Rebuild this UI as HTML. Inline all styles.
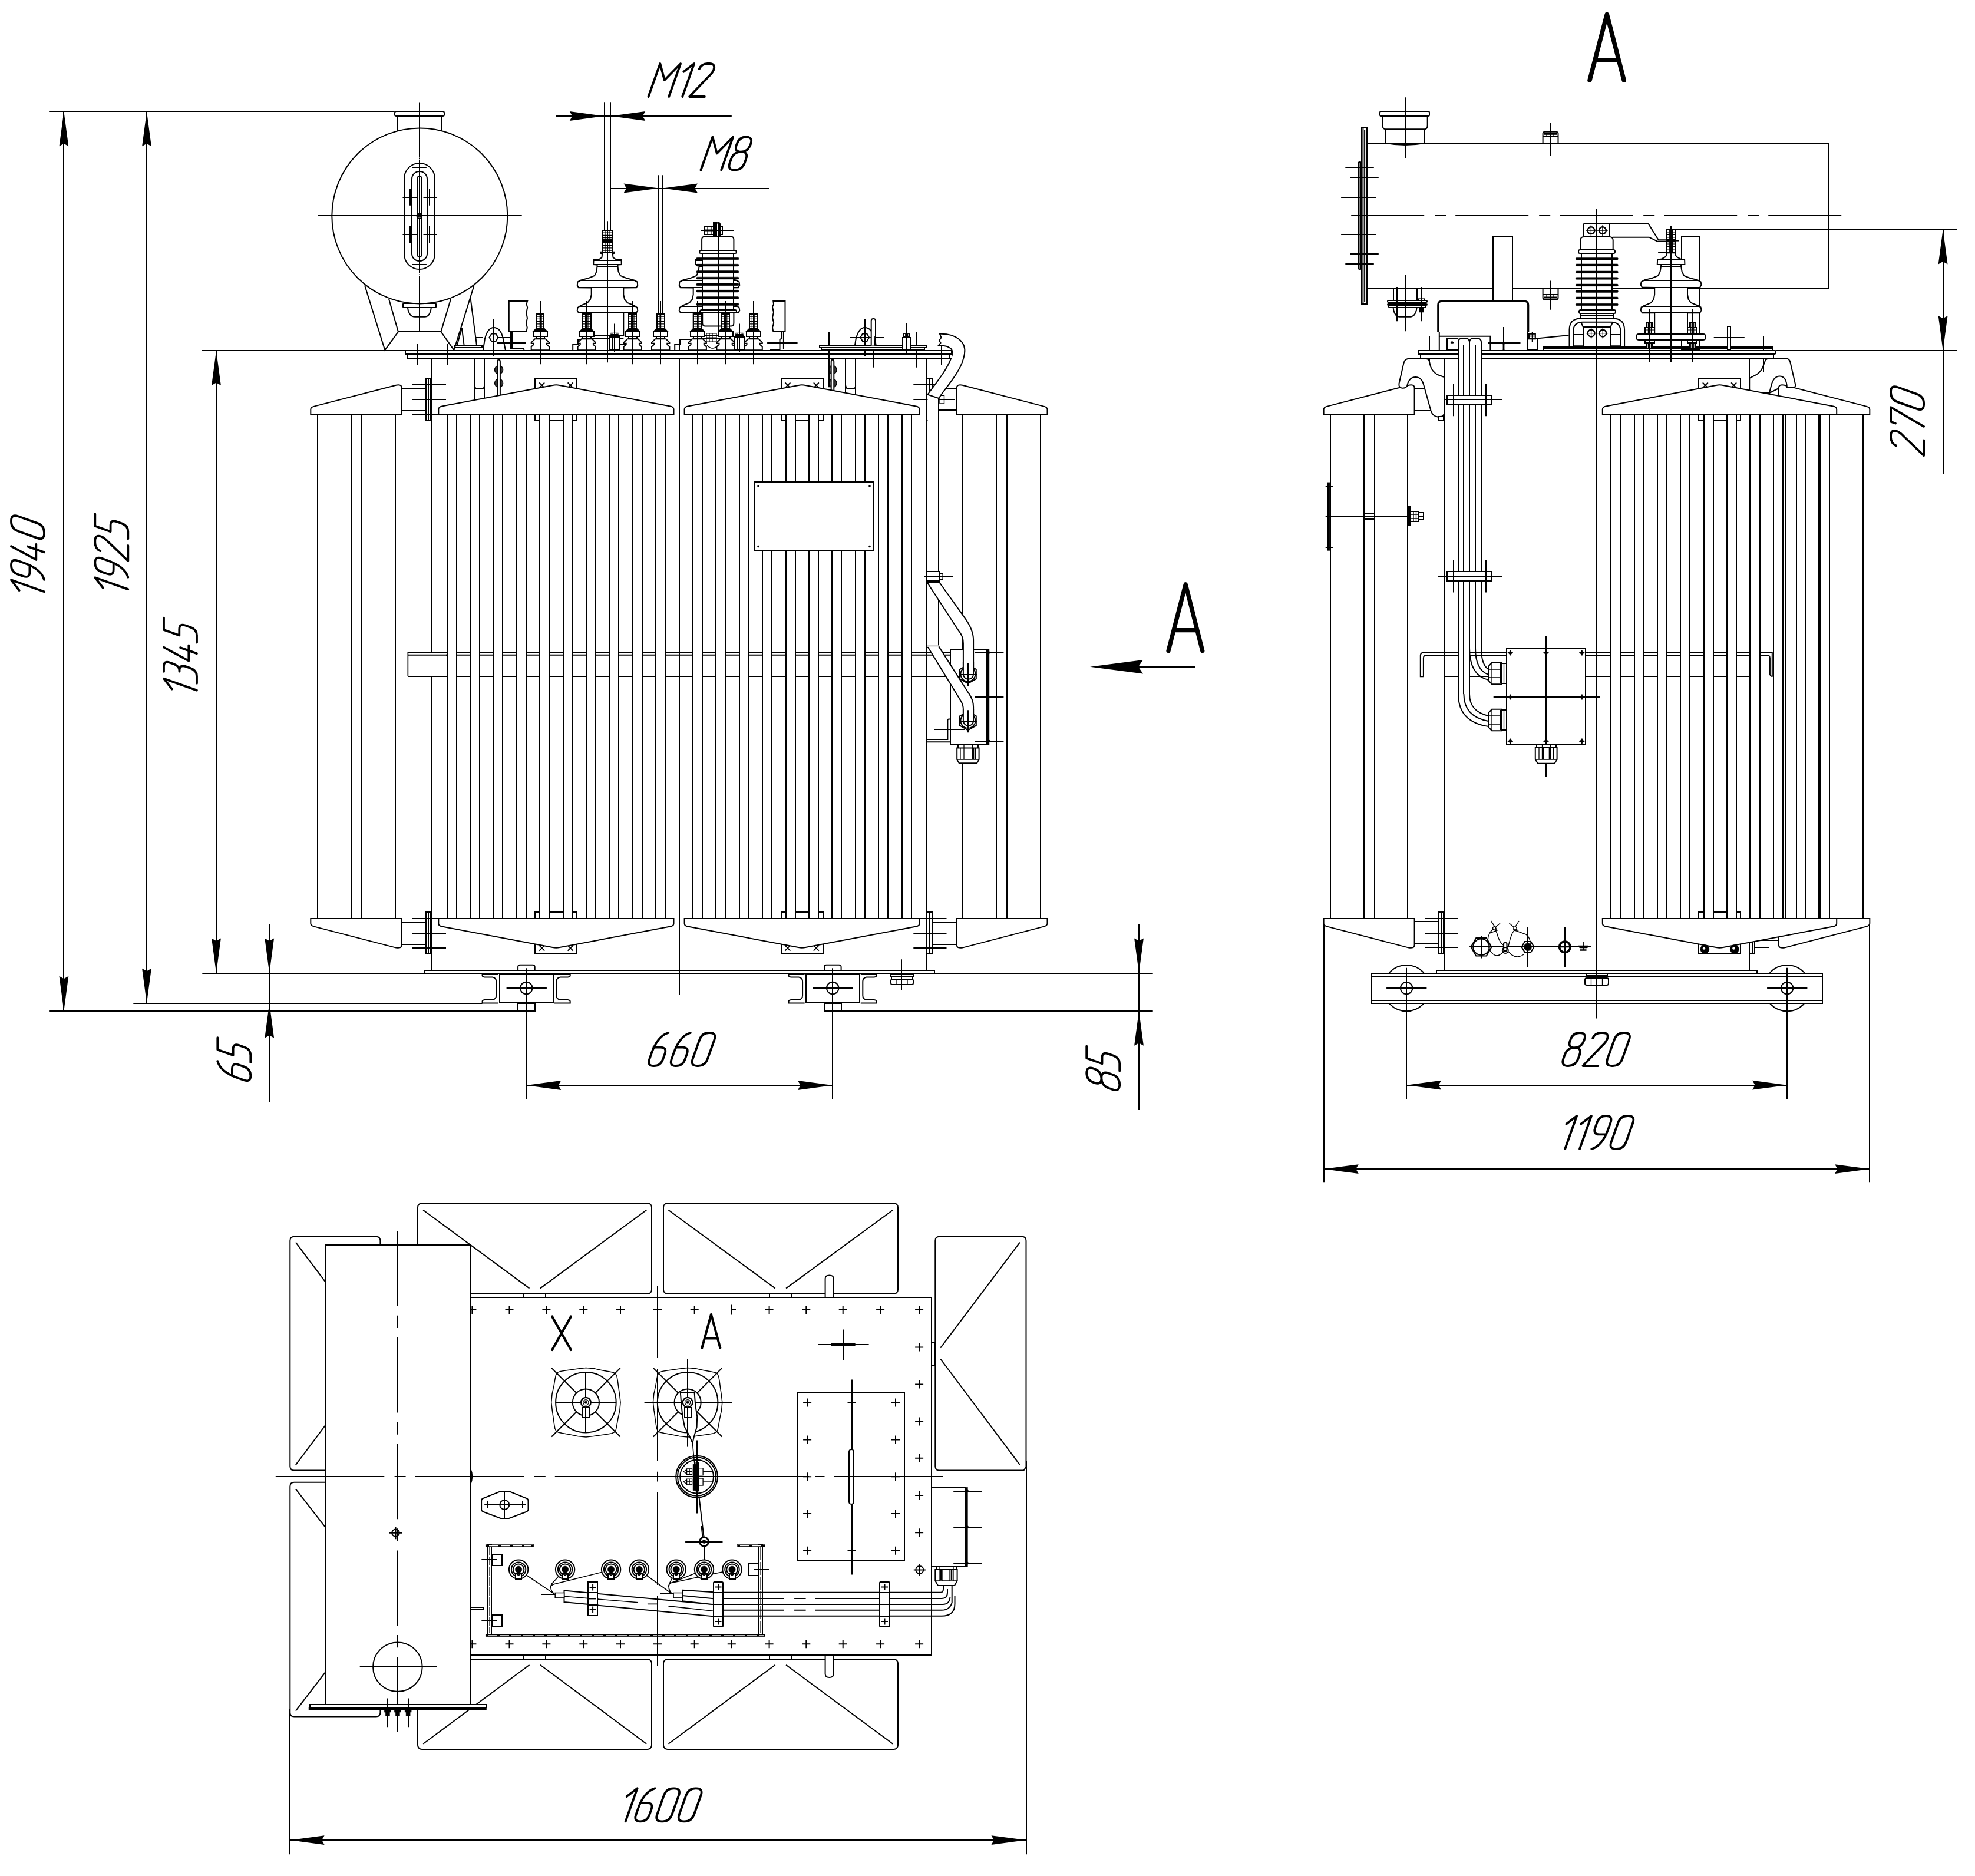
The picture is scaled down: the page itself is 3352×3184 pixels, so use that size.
<!DOCTYPE html>
<html><head><meta charset="utf-8"><title>Transformer drawing</title>
<style>html,body{margin:0;padding:0;background:#fff;font-family:"Liberation Sans",sans-serif}svg{display:block}</style></head><body>
<svg width="3352" height="3184" viewBox="0 0 3352 3184">
<rect width="3352" height="3184" fill="#fff"/>
<g fill="none" stroke="#000" stroke-width="2" stroke-linecap="butt" stroke-linejoin="miter">
<path d="M84.2 189L669.8 189"/>
<path d="M342.5 595L690 595"/>
<path d="M343.3 1652L1956.7 1652"/>
<path d="M226.3 1703L818.5 1703"/>
<path d="M84.2 1716L907.6 1716"/>
<path d="M1399.2 1716L1956.7 1716"/>
<path d="M108 189.2L108 1715.7"/>
<path d="M108.4 189.2L116.3 248.2L108.4 243.7L100.5 248.2Z" fill="#000" stroke="none"/>
<path d="M108.4 1715.7L100.5 1656.7L108.4 1661.2L116.3 1656.7Z" fill="#000" stroke="none"/>
<path d="M249 189.2L249 1702.8"/>
<path d="M249 189.2L256.9 248.2L249 243.7L241.1 248.2Z" fill="#000" stroke="none"/>
<path d="M249 1702.8L241.1 1643.8L249 1648.3L256.9 1643.8Z" fill="#000" stroke="none"/>
<path d="M367 595L367 1651.6"/>
<path d="M367 595L374.9 654L367 649.5L359.1 654Z" fill="#000" stroke="none"/>
<path d="M367 1651.6L359.1 1592.6L367 1597.1L374.9 1592.6Z" fill="#000" stroke="none"/>
<path d="M457 1569L457 1870.4"/>
<path d="M457.2 1651.6L449.3 1592.6L457.2 1597.1L465.1 1592.6Z" fill="#000" stroke="none"/>
<path d="M457.2 1702.8L465.1 1761.8L457.2 1757.3L449.3 1761.8Z" fill="#000" stroke="none"/>
<path d="M1933 1569L1933 1884"/>
<path d="M1933 1651.6L1925.1 1592.6L1933 1597.1L1940.9 1592.6Z" fill="#000" stroke="none"/>
<path d="M1933 1715.7L1940.9 1774.7L1933 1770.2L1925.1 1774.7Z" fill="#000" stroke="none"/>
<path d="M15 -42.3L32.8 -56L12.9 0M58.2 -24.6L46.4 -24.6Q35.2 -24.6 39.2 -35.8L42.4 -44.8Q46.4 -56 57.6 -56L58.1 -56Q69.3 -56 65.4 -44.8L61.8 -34.7C55.8 -17.9 47.5 -3.9 33.2 -0M90 -56L67.2 -13.7L93.2 -13.7M89.6 -28L79.7 0M111.6 0L113.3 0Q125 0 129.2 -11.8L140.8 -44.2Q144.9 -56 133.2 -56L131.5 -56Q119.7 -56 115.6 -44.2L104 -11.8Q99.8 0 111.6 0" transform="translate(75 1017.1) rotate(-90)" stroke-width="3.8" stroke-linecap="round" stroke-linejoin="round"/>
<path d="M15 -42.3L32.8 -56L12.9 0M58.2 -24.6L46.4 -24.6Q35.2 -24.6 39.2 -35.8L42.4 -44.8Q46.4 -56 57.6 -56L58.1 -56Q69.3 -56 65.4 -44.8L61.8 -34.7C55.8 -17.9 47.5 -3.9 33.2 -0M77.9 -47C79.9 -52.6 85.6 -56 91.7 -56L95.4 -56C102.4 -56 104.7 -52.1 102.5 -45.9C101 -41.4 98.2 -38.1 93.3 -33.6L61.2 0L87 0M140.7 -56L120.3 -56L110.9 -29.7L121.3 -29.7Q131.4 -29.7 127.8 -19.6L124.4 -10.1Q120.8 0 110.8 0L98.7 0" transform="translate(217.3 1013) rotate(-90)" stroke-width="3.8" stroke-linecap="round" stroke-linejoin="round"/>
<path d="M15 -42.3L32.8 -56L12.9 0M44.7 -56L53.6 -56Q63.4 -56 59.9 -45.9L57.7 -39.8Q54 -29.5 46.5 -29.5L44.8 -29.5M46.5 -29.5Q57.1 -29.5 53.2 -18.5L50.4 -10.6Q46.6 0 36.6 0L24.8 0M85.8 -56L62.9 -13.7L89 -13.7M85.4 -28L75.4 0M135.9 -56L115.5 -56L106.1 -29.7L116.5 -29.7Q126.6 -29.7 123 -19.6L119.6 -10.1Q116 0 106 0L93.9 0" transform="translate(334 1184.5) rotate(-90)" stroke-width="3.8" stroke-linecap="round" stroke-linejoin="round"/>
<path d="M12.8 -31.4L24.6 -31.4Q35.8 -31.4 31.8 -20.2L28.6 -11.2Q24.6 0 13.4 0L12.9 0Q1.7 0 5.7 -11.2L9.2 -21.3C15.2 -38.1 23.5 -52.1 37.8 -56M77.8 -56L57.4 -56L48.1 -29.7L58.4 -29.7Q68.5 -29.7 64.9 -19.6L61.5 -10.1Q58 0 47.9 0L35.8 0" transform="translate(425.3 1839) rotate(-90)" stroke-width="3.8" stroke-linecap="round" stroke-linejoin="round"/>
<path d="M23.3 -30.8L23.3 -30.8Q35 -30.8 39.2 -42.6L39.8 -44.2Q44 -56 32.2 -56L32.2 -56Q20.4 -56 16.3 -44.2L15.7 -42.6Q11.5 -30.8 23.3 -30.8M12.3 0L12.9 0Q25.2 0 29.6 -12.3L31.8 -18.5Q36.1 -30.8 23.8 -30.8L23.3 -30.8Q10.9 -30.8 6.6 -18.5L4.4 -12.3Q0 0 12.3 0M77.8 -56L57.4 -56L48.1 -29.7L58.4 -29.7Q68.5 -29.7 64.9 -19.6L61.5 -10.1Q58 0 47.9 0L35.8 0" transform="translate(1900.2 1853.4) rotate(-90)" stroke-width="3.8" stroke-linecap="round" stroke-linejoin="round"/>
<path d="M893.2 1842L1413 1842"/>
<path d="M893.2 1842L952.2 1834.1L947.7 1842L952.2 1849.9Z" fill="#000" stroke="none"/>
<path d="M1413 1842L1354 1849.9L1358.5 1842L1354 1834.1Z" fill="#000" stroke="none"/>
<path d="M12.8 -31.4L24.6 -31.4Q35.8 -31.4 31.8 -20.2L28.6 -11.2Q24.6 0 13.4 0L12.9 0Q1.7 0 5.7 -11.2L9.2 -21.3C15.2 -38.1 23.5 -52.1 37.8 -56M50.3 -31.4L62.1 -31.4Q73.3 -31.4 69.3 -20.2L66.1 -11.2Q62.2 0 51 0L50.4 0Q39.2 0 43.2 -11.2L46.8 -21.3C52.7 -38.1 61 -52.1 75.3 -56M86.8 0L88.5 0Q100.2 0 104.4 -11.8L115.9 -44.2Q120.1 -56 108.4 -56L106.7 -56Q94.9 -56 90.7 -44.2L79.2 -11.8Q75 0 86.8 0" transform="translate(1096.5 1809)" stroke-width="3.8" stroke-linecap="round" stroke-linejoin="round"/>
<path d="M943 197L1241.8 197"/>
<path d="M1025.8 197L966.8 204.9L971.3 197L966.8 189.1Z" fill="#000" stroke="none"/>
<path d="M1036.2 197L1095.2 189.1L1090.7 197L1095.2 204.9Z" fill="#000" stroke="none"/>
<path d="M0 0L19.9 -56L27.3 -28L54.6 -56L34.7 0M59.8 -42.3L77.6 -56L57.7 0M86.3 -47C88.3 -52.6 94 -56 100.1 -56L103.8 -56C110.8 -56 113.1 -52.1 110.9 -45.9C109.4 -41.4 106.6 -38.1 101.7 -33.6L69.6 0L95.4 0" transform="translate(1100.5 164)" stroke-width="3.8" stroke-linecap="round" stroke-linejoin="round"/>
<path d="M1036.7 320L1305.8 320"/>
<path d="M1117.6 319.5L1058.6 327.4L1063.1 319.5L1058.6 311.6Z" fill="#000" stroke="none"/>
<path d="M1124.9 319.5L1183.9 311.6L1179.4 319.5L1183.9 327.4Z" fill="#000" stroke="none"/>
<path d="M1118 297.2L1118 534"/>
<path d="M1125 297.2L1125 534"/>
<path d="M0 0L19.9 -56L27.3 -28L54.6 -56L34.7 0M68.1 -30.8L68.1 -30.8Q79.8 -30.8 84 -42.6L84.6 -44.2Q88.8 -56 77 -56L77 -56Q65.2 -56 61.1 -44.2L60.5 -42.6Q56.3 -30.8 68.1 -30.8M57.1 0L57.7 0Q70 0 74.4 -12.3L76.6 -18.5Q80.9 -30.8 68.6 -30.8L68.1 -30.8Q55.7 -30.8 51.4 -18.5L49.2 -12.3Q44.8 0 57.1 0" transform="translate(1189.5 288.5)" stroke-width="3.8" stroke-linecap="round" stroke-linejoin="round"/>
<path d="M1932 1132L2028 1132"/>
<path d="M1850 1131.8L1940 1120L1932 1131.8L1940 1143.6Z" fill="#000" stroke="none"/>
<path d="M1983 1104.6L2012.2 991.8L2040.8 1104.6M1992.2 1069.7H2031.7" stroke-width="7.3" stroke-linecap="round" stroke-linejoin="round"/>
<path d="M619.1 484.5L653.3 594.2L675.9 563.1L748.4 563.1L770.5 594.2L804.6 484.5"/>
<path d="M659.9 507.1L675.9 563.1"/>
<path d="M765.2 507.1L748.4 563.1"/>
<path d="M798.5 505.8L809.2 587.1"/>
<path d="M783.8 556.4L787.8 587.1"/>
<path d="M783.8 556.4L775.5 587.1"/>
<rect x="772" y="587" width="46" height="3"/>
<rect x="684" y="515" width="56" height="7" rx="1.5"/>
<path d="M691.9 521.8Q694 537.8 704.5 537.8H720.5Q730 537.8 731.9 521.8"/>
<circle cx="712.3" cy="366.4" r="149" fill="#fff"/>
<rect x="670" y="189" width="84" height="8" rx="2.5"/>
<path d="M675 197.4L675 222.5"/>
<path d="M749 197.4L749 222.5"/>
<path d="M712 173.5L712 561.8" stroke-dasharray="94 1.5 1.2 1.5"/>
<path d="M539.4 366L885.7 366"/>
<rect x="686" y="277" width="52" height="180" rx="26.1"/>
<rect x="699" y="291" width="26" height="152" rx="12.6"/>
<rect x="708" y="299" width="8" height="137" rx="4.2"/>
<path d="M683.4 335L707.9 335"/>
<path d="M718.5 335L741.2 335"/>
<path d="M696 320.7L696 348.7"/>
<path d="M729 320.7L729 348.7"/>
<path d="M683.4 398L707.9 398"/>
<path d="M718.5 398L741.2 398"/>
<path d="M696 383.9L696 411.9"/>
<path d="M729 383.9L729 411.9"/>
<path d="M699.9 284L723.9 284"/>
<path d="M699.9 449L723.9 449"/>
<circle cx="711.9" cy="366.4" r="4.3"/>
<circle cx="711.9" cy="366.4" r="2"/>
<path d="M732 608L732 1646.6"/>
<path d="M1573 608L1573 1646.6"/>
<rect x="720" y="1647" width="866" height="5"/>
<path d="M806 608L806 690"/>
<path d="M822 608L822 690"/>
<path d="M805.8 654.4Q805.8 659.5 809.8 659.5H818Q822 659.5 822 654.4"/>
<path d="M1435 608L1435 690"/>
<path d="M1452 608L1452 690"/>
<path d="M1435.4 654.4Q1435.4 659.5 1439.4 659.5H1448.1Q1452.1 659.5 1452.1 654.4"/>
<ellipse cx="846.6" cy="627.7" rx="7" ry="7.3" fill="#3a3a3a" stroke-width="1.4"/>
<rect x="843.3" y="625.1" width="4.3" height="5.2" fill="#fff" stroke-width="0"/>
<ellipse cx="846.6" cy="650.3" rx="7" ry="7.3" fill="#3a3a3a" stroke-width="1.4"/>
<rect x="843.3" y="647.7" width="4.3" height="5.2" fill="#fff" stroke-width="0"/>
<path d="M844.3 672V614Q844.3 610.5 846.6 610.5Q848.9 610.5 848.9 614V672" fill="#fff"/>
<ellipse cx="1413" cy="627.7" rx="7" ry="7.3" fill="#3a3a3a" stroke-width="1.4"/>
<rect x="1409.7" y="625.1" width="4.3" height="5.2" fill="#fff" stroke-width="0"/>
<ellipse cx="1413" cy="650.3" rx="7" ry="7.3" fill="#3a3a3a" stroke-width="1.4"/>
<rect x="1409.7" y="647.7" width="4.3" height="5.2" fill="#fff" stroke-width="0"/>
<path d="M1410.7 672V614Q1410.7 610.5 1413 610.5Q1415.3 610.5 1415.3 614V672" fill="#fff"/>
<path d="M692.5 1148.1V1107.7H1612M692.5 1111.7H1612M692.5 1148.1H1612"/>
<rect x="693.4" y="1108.6" width="63.6" height="38.6" fill="#fff" stroke-width="0"/>
<path d="M692.5 1111.7H760"/>
<rect x="723" y="642" width="8" height="72" fill="#fff"/>
<path d="M727 642.5L727 713.9"/>
<rect x="1573" y="642" width="10" height="72" fill="#fff"/>
<path d="M1578 642.5L1578 713.9"/>
<path d="M699.2 653L757 653"/>
<path d="M1550.3 653L1605.2 653"/>
<path d="M699.2 678L757 678"/>
<path d="M1550.3 678L1620 678"/>
<path d="M699.2 703L757 703"/>
<rect x="723" y="1548" width="8" height="71" fill="#fff"/>
<path d="M727 1547.8L727 1619.2"/>
<rect x="1573" y="1548" width="10" height="71" fill="#fff"/>
<path d="M1578 1547.8L1578 1619.2"/>
<path d="M699.2 1559L757 1559"/>
<path d="M1550.3 1559L1606.5 1559"/>
<path d="M699.2 1584L757 1584"/>
<path d="M1550.3 1584L1606.5 1584"/>
<path d="M699.2 1609L757 1609"/>
<path d="M1550.3 1609L1606.5 1609"/>
<path d="M681.8 659L722.8 659"/>
<path d="M681.8 697L722.8 697"/>
<path d="M681.8 1565L722.8 1565"/>
<path d="M681.8 1603L722.8 1603"/>
<path d="M1583.1 1565L1623.8 1565"/>
<path d="M1583.1 1603L1623.8 1603"/>
<rect x="1593" y="659" width="31" height="37"/>
<rect x="1595" y="671.3" width="7.5" height="13.7" stroke-width="1.4"/>
<path d="M1595 675.5H1602.5M1595 680.5H1602.5" stroke-width="1.2"/>
<path d="M539 703L539 1559"/>
<path d="M596 703L596 1559"/>
<path d="M614 703L614 1559"/>
<path d="M671 703L671 1559"/>
<path d="M527.3 703V694.9Q527.3 691.2 532.4 689.9L672.2 653.7Q681.8 652 681.8 658V703Z" fill="#fff"/>
<path d="M527.3 1559V1567.3Q527.3 1571 532.4 1572.4L672.2 1608.6Q681.8 1610 681.8 1604V1559Z" fill="#fff"/>
<path d="M1766 703L1766 1559"/>
<path d="M1709 703L1709 1559"/>
<path d="M1691 703L1691 1559"/>
<path d="M1634 703L1634 1559"/>
<path d="M1777.5 703V694.9Q1777.5 691.2 1772.4 689.9L1633.4 653.7Q1623.8 652 1623.8 658V703Z" fill="#fff"/>
<path d="M1777.5 1559V1567.3Q1777.5 1571 1772.4 1572.4L1633.4 1608.6Q1623.8 1610 1623.8 1604V1559Z" fill="#fff"/>
<rect x="908" y="642" width="71" height="72" fill="#fff"/>
<path d="M915.2 649.4L924.2 658.4M915.2 658.4L924.2 649.4"/>
<path d="M963.6 649.4L972.6 658.4M963.6 658.4L972.6 649.4"/>
<rect x="908" y="1548" width="71" height="71" fill="#fff"/>
<path d="M915.2 1604.6L924.2 1613.6M915.2 1613.6L924.2 1604.6"/>
<path d="M963.6 1604.6L972.6 1613.6M963.6 1613.6L972.6 1604.6"/>
<rect x="758.7" y="703" width="16" height="856" fill="#fff" stroke-width="0"/>
<path d="M759 703L759 1559"/>
<path d="M775 703L775 1559"/>
<rect x="798.1" y="703" width="16" height="856" fill="#fff" stroke-width="0"/>
<path d="M798 703L798 1559"/>
<path d="M814 703L814 1559"/>
<rect x="837.5" y="703" width="16" height="856" fill="#fff" stroke-width="0"/>
<path d="M837 703L837 1559"/>
<path d="M853 703L853 1559"/>
<rect x="876.9" y="703" width="16" height="856" fill="#fff" stroke-width="0"/>
<path d="M877 703L877 1559"/>
<path d="M893 703L893 1559"/>
<rect x="916.3" y="703" width="16" height="856" fill="#fff" stroke-width="0"/>
<path d="M916 703L916 1559"/>
<path d="M932 703L932 1559"/>
<rect x="955.7" y="703" width="16" height="856" fill="#fff" stroke-width="0"/>
<path d="M956 703L956 1559"/>
<path d="M972 703L972 1559"/>
<rect x="995.1" y="703" width="16" height="856" fill="#fff" stroke-width="0"/>
<path d="M995 703L995 1559"/>
<path d="M1011 703L1011 1559"/>
<rect x="1034.5" y="703" width="16" height="856" fill="#fff" stroke-width="0"/>
<path d="M1034 703L1034 1559"/>
<path d="M1050 703L1050 1559"/>
<rect x="1073.9" y="703" width="16" height="856" fill="#fff" stroke-width="0"/>
<path d="M1074 703L1074 1559"/>
<path d="M1090 703L1090 1559"/>
<rect x="1113.3" y="703" width="16" height="856" fill="#fff" stroke-width="0"/>
<path d="M1113 703L1113 1559"/>
<path d="M1129 703L1129 1559"/>
<path d="M744.3 703V694.5Q744.3 690.5 750.3 689.4L937.9 654Q943.9 652.5 949.9 654L1137.5 689.4Q1143.5 690.5 1143.5 694.5V703Z" fill="#fff"/>
<path d="M744.3 1559V1567.5Q744.3 1571.5 750.3 1572.6L937.9 1608Q943.9 1609.5 949.9 1608L1137.5 1572.6Q1143.5 1571.5 1143.5 1567.5V1559Z" fill="#fff"/>
<rect x="1326" y="642" width="71" height="72" fill="#fff"/>
<path d="M1332.4 649.4L1341.4 658.4M1332.4 658.4L1341.4 649.4"/>
<path d="M1380.8 649.4L1389.8 658.4M1380.8 658.4L1389.8 649.4"/>
<rect x="1326" y="1548" width="71" height="71" fill="#fff"/>
<path d="M1332.4 1604.6L1341.4 1613.6M1332.4 1613.6L1341.4 1604.6"/>
<path d="M1380.8 1604.6L1389.8 1613.6M1380.8 1613.6L1389.8 1604.6"/>
<rect x="1176" y="703" width="16" height="856" fill="#fff" stroke-width="0"/>
<path d="M1176 703L1176 1559"/>
<path d="M1192 703L1192 1559"/>
<rect x="1215.4" y="703" width="16" height="856" fill="#fff" stroke-width="0"/>
<path d="M1215 703L1215 1559"/>
<path d="M1231 703L1231 1559"/>
<rect x="1254.8" y="703" width="16" height="856" fill="#fff" stroke-width="0"/>
<path d="M1255 703L1255 1559"/>
<path d="M1271 703L1271 1559"/>
<rect x="1294.2" y="703" width="16" height="856" fill="#fff" stroke-width="0"/>
<path d="M1294 703L1294 1559"/>
<path d="M1310 703L1310 1559"/>
<rect x="1333.6" y="703" width="16" height="856" fill="#fff" stroke-width="0"/>
<path d="M1334 703L1334 1559"/>
<path d="M1350 703L1350 1559"/>
<rect x="1373" y="703" width="16" height="856" fill="#fff" stroke-width="0"/>
<path d="M1373 703L1373 1559"/>
<path d="M1389 703L1389 1559"/>
<rect x="1412.4" y="703" width="16" height="856" fill="#fff" stroke-width="0"/>
<path d="M1412 703L1412 1559"/>
<path d="M1428 703L1428 1559"/>
<rect x="1451.8" y="703" width="16" height="856" fill="#fff" stroke-width="0"/>
<path d="M1452 703L1452 1559"/>
<path d="M1468 703L1468 1559"/>
<rect x="1491.2" y="703" width="16" height="856" fill="#fff" stroke-width="0"/>
<path d="M1491 703L1491 1559"/>
<path d="M1507 703L1507 1559"/>
<rect x="1530.6" y="703" width="16" height="856" fill="#fff" stroke-width="0"/>
<path d="M1531 703L1531 1559"/>
<path d="M1547 703L1547 1559"/>
<path d="M1161.6 703V694.5Q1161.6 690.5 1167.6 689.4L1355.1 654Q1361.1 652.5 1367.1 654L1554.6 689.4Q1560.6 690.5 1560.6 694.5V703Z" fill="#fff"/>
<path d="M1161.6 1559V1567.5Q1161.6 1571.5 1167.6 1572.6L1355.1 1608Q1361.1 1609.5 1367.1 1608L1554.6 1572.6Q1560.6 1571.5 1560.6 1567.5V1559Z" fill="#fff"/>
<path d="M1153 585L1153 1689"/>
<rect x="1281" y="818" width="201" height="116" fill="#fff"/>
<circle cx="1287" cy="825" r="1.5" fill="#000" stroke-width="0.5"/>
<circle cx="1476" cy="825" r="1.5" fill="#000" stroke-width="0.5"/>
<circle cx="1287" cy="927.5" r="1.5" fill="#000" stroke-width="0.5"/>
<circle cx="1476" cy="927.5" r="1.5" fill="#000" stroke-width="0.5"/>
<rect x="1574.5" y="668" width="18" height="429" fill="#fff" stroke-width="0"/>
<path d="M1593 669.7L1593 1096.6"/>
<path d="M1594.9 566.8C1625 566 1640 582 1637 600C1634 625 1612 650 1598.3 668.6L1593.3 676L1574.4 669.7C1590 648 1612 622 1616.6 600C1618 590 1606 586 1592.7 586.6L1596.5 582L1594 578L1597.5 573Z" fill="#fff"/>
<rect x="1572" y="970" width="22" height="16" fill="#fff"/>
<rect x="1594" y="973.5" width="6" height="10" stroke-width="1.2"/>
<path d="M1569 978L1618 978"/>
<rect x="1613" y="1102" width="62" height="162" fill="#fff"/>
<rect x="1674.6" y="1101.8" width="4.2" height="162.7" fill="#000" stroke-width="0.8"/>
<path d="M1654.4 1108L1703.4 1108"/>
<path d="M1676.5 1103.6L1681 1107.6L1676.5 1111.6Z" fill="#000" stroke-width="0.8"/>
<path d="M1654.4 1183L1703.4 1183"/>
<path d="M1676.5 1179L1681 1183L1676.5 1187Z" fill="#000" stroke-width="0.8"/>
<path d="M1654.4 1258L1703.4 1258"/>
<path d="M1676.5 1253.8L1681 1257.8L1676.5 1261.8Z" fill="#000" stroke-width="0.8"/>
<path d="M1594 988L1635.7 1046.3Q1652.1 1068 1652.1 1086V1134H1634.9V1092Q1634.9 1080 1627.1 1070.7L1573.8 988.7Z" fill="#fff"/>
<path d="M1592.9 1096.6L1644.4 1177.2Q1652.1 1188 1652.1 1200V1212H1634.9V1204Q1634.9 1197 1631 1190L1573.8 1096.6Z" fill="#fff"/>
<path d="M1573.8 1096.6H1592.9" stroke-width="2.5" stroke="#fff"/>
<path d="M1642.9 1160.1L1629 1152.1L1629 1136.1L1642.9 1128.1L1656.8 1136.1L1656.8 1152.1Z" fill="#fff"/>
<circle cx="1642.9" cy="1144.1" r="12.5"/>
<path d="M1634.9 1124.1V1144.1A8.6 8.6 0 0 0 1652.1 1144.1V1124.1" fill="#fff"/>
<path d="M1643 1126.1L1643 1164.1"/>
<path d="M1629 1145L1658 1145"/>
<path d="M1642.9 1239.3L1629 1231.3L1629 1215.3L1642.9 1207.3L1656.8 1215.3L1656.8 1231.3Z" fill="#fff"/>
<circle cx="1642.9" cy="1223.3" r="12.5"/>
<path d="M1634.9 1203.3V1223.3A8.6 8.6 0 0 0 1652.1 1223.3V1203.3" fill="#fff"/>
<path d="M1643 1205.3L1643 1243.3"/>
<path d="M1629 1224L1658 1224"/>
<path d="M1613.3 1220.4H1610.4Q1608.4 1220.4 1608.4 1222.4V1255H1573.8M1573.8 1259.3H1613.3"/>
<path d="M1585.3 1238L1637.2 1238"/>
<rect x="1626" y="1264" width="34" height="6" fill="#fff"/>
<path d="M1624.2 1269.5H1661.6V1289L1658 1295.2H1627.8L1624.2 1289Z" fill="#fff"/>
<path d="M1630 1269.5V1289M1636 1264.5V1289M1650.5 1264.5V1289M1655.5 1269.5V1289M1624.2 1289H1661.6" stroke-width="1.3"/>
<path d="M1651.8 1270L1651.8 1288" stroke-width="3"/>
<rect x="687.4" y="595" width="928" height="13" fill="#fff" stroke-width="0"/>
<path d="M687.4 595L1615.4 595"/>
<path d="M687.4 601L1615.4 601" stroke-width="4"/>
<path d="M688 595V601M692 601V608H1612V601M1615 595V601"/>
<path d="M708 584L708 619"/>
<path d="M759 584L759 619"/>
<path d="M1407 563.3L1407 657.2"/>
<path d="M1482 563.3L1482 623.7"/>
<path d="M1556 563.3L1556 623.7"/>
<path d="M1598 586.6L1598 619.6"/>
<path d="M819.9 594.2L822.9 575Q827.9 556 837.9 556Q849.9 556 853.9 575L857.9 594.2" fill="#fff"/>
<path d="M845.3 572.8L841.6 579.2L834.2 579.2L830.5 572.8L834.2 566.4L841.6 566.4Z"/>
<path d="M838 541.3L838 604"/>
<path d="M1449.7 594.2L1452.7 575Q1457.7 556 1467.7 556Q1479.7 556 1483.7 575L1487.7 594.2" fill="#fff"/>
<path d="M1475.1 572.8L1471.4 579.2L1464 579.2L1460.3 572.8L1464 566.4L1471.4 566.4Z"/>
<path d="M1468 541.3L1468 604"/>
<path d="M1443 573L1500 573"/>
<path d="M806.5 573H820M843 573H866"/>
<path d="M843 582H892"/>
<path d="M895.2 510.9H863.8V562.5H893.5L894.8 556L893 548L895 540L893.2 531L895.2 522L893.5 516Z" fill="#fff"/>
<rect x="865.8" y="562.5" width="4.4" height="29.5" fill="#000" stroke-width="0.6"/>
<path d="M870 591.5H888.5L889.5 594"/>
<path d="M1312.3 510.9H1332.5V562.5H1312.3L1311 556L1313.2 548L1311 539L1313 530L1311 521L1313 516Z" fill="#fff"/>
<path d="M1326.4 562.5V575L1323.5 576V592.9H1307M1329.9 562.5V592.9"/>
<path d="M1302.1 582L1353.6 582"/>
<rect x="1391" y="587" width="182" height="3" fill="#fff"/>
<rect x="1394" y="590" width="175" height="4" fill="#fff"/>
<path d="M1478.7 586.6V544Q1478.7 541 1482.3 541Q1486 541 1486 544V586.6" fill="#fff"/>
<path d="M1483.5 586.6L1484.5 570L1487.5 586.6Z" fill="#000" stroke-width="0.6"/>
<rect x="1532" y="573" width="14" height="21" fill="#fff"/>
<rect x="1532.8" y="566.1" width="11.8" height="6.1" fill="#000" stroke-width="0.6"/>
<path d="M1535.5 567V571M1538.7 567V571M1541.9 567V571" stroke-width="1.2" stroke="#fff"/>
<path d="M1539 549L1539 599.1"/>
<path d="M1042.3 427.8L1042.3 429.9L1039.8 430.5L1040.5 437L1045 440L1054.5 441L1054.8 449.1L1048.5 449.6L1048.5 452.2L1049.5 461L1053 468L1063 472L1076 475.5L1081.5 478.5L1082.3 484L1080 488.3L1058.3 488.6L1058.3 500L1060 508L1065 514L1076 518.5L1081.5 522L1082.3 527L1080 531L1058.3 531.1L1058.3 569.6L1003.7 569.6L1003.7 531.1L982 531L979.7 527L980.5 522L986 518.5L997 514L1002 508L1003.7 500L1003.7 488.6L982 488.3L979.7 484L980.5 478.5L986 475.5L999 472L1009 468L1012.5 461L1013.5 452.2L1013.5 449.6L1007.2 449.1L1007.5 441L1017 440L1021.5 437L1022.2 430.5L1019.7 429.9L1019.7 427.8Z" fill="#fff"/>
<path d="M1007.5 442L1054.5 442"/>
<path d="M1007.5 449L1054.5 449"/>
<path d="M1013.5 452L1048.5 452"/>
<path d="M984 476L1078 476"/>
<path d="M982 488L1080 488"/>
<path d="M984 520L1078 520"/>
<path d="M982 531L1080 531"/>
<path d="M1003.7 570L1058.3 570"/>
<path d="M1003.7 574L1058.3 574"/>
<path d="M972.2 594.2L972.2 584.4L981 584.4L981 576L1004 576"/>
<path d="M1061.4 594.2L1061.4 584.4L1051 584.4"/>
<rect x="1022" y="391" width="18" height="37" fill="#fff"/>
<path d="M1028 390.8V427.8M1034 390.8V427.8M1022.4 395H1039.6M1022.4 399.3H1039.6M1022.4 403.6H1039.6M1022.4 407.9H1039.6M1022.4 412.2H1039.6M1022.4 416.5H1039.6M1022.4 420.8H1039.6M1022.4 425.1H1039.6" stroke-width="1.2"/>
<rect x="1022" y="407" width="18" height="4" fill="#000"/>
<path d="M1026 173.2L1026 390.8"/>
<path d="M1036 173.2L1036 390.8"/>
<path d="M1031 375.2L1031 615.2"/>
<path d="M1215.3 427.8L1215.3 429.9L1212.8 430.5L1213.5 437L1218 440L1227.5 441L1227.8 449.1L1221.5 449.6L1221.5 452.2L1222.5 461L1226 468L1236 472L1249 475.5L1254.5 478.5L1255.3 484L1253 488.3L1231.3 488.6L1231.3 500L1233 508L1238 514L1249 518.5L1254.5 522L1255.3 527L1253 531L1231.3 531.1L1231.3 569.6L1176.7 569.6L1176.7 531.1L1155 531L1152.7 527L1153.5 522L1159 518.5L1170 514L1175 508L1176.7 500L1176.7 488.6L1155 488.3L1152.7 484L1153.5 478.5L1159 475.5L1172 472L1182 468L1185.5 461L1186.5 452.2L1186.5 449.6L1180.2 449.1L1180.5 441L1190 440L1194.5 437L1195.2 430.5L1192.7 429.9L1192.7 427.8Z" fill="#fff"/>
<path d="M1180.5 442L1227.5 442"/>
<path d="M1180.5 449L1227.5 449"/>
<path d="M1186.5 452L1221.5 452"/>
<path d="M1157 476L1251 476"/>
<path d="M1155 488L1253 488"/>
<path d="M1157 520L1251 520"/>
<path d="M1155 531L1253 531"/>
<path d="M1176.7 570L1231.3 570"/>
<path d="M1176.7 574L1231.3 574"/>
<path d="M1145.2 594.2L1145.2 584.4L1154 584.4L1154 576L1177 576"/>
<path d="M1234.4 594.2L1234.4 584.4L1224 584.4"/>
<rect x="1191.1" y="401.5" width="54.3" height="151.9" fill="#fff" stroke-width="0"/>
<path d="M1191.1 424.8V406.5Q1191.1 401.5 1196.1 401.5H1240.4Q1245.4 401.5 1245.4 406.5V424.8" fill="#fff"/>
<rect x="1187" y="425" width="63" height="5" rx="2.5" fill="#fff"/>
<rect x="1192" y="430" width="53" height="96" fill="#fff"/>
<rect x="1182" y="437.2" width="71.9" height="3.6" rx="1.5" fill="#000" stroke-width="0.5"/>
<rect x="1182" y="448.3" width="71.9" height="3.6" rx="1.5" fill="#000" stroke-width="0.5"/>
<rect x="1182" y="459.5" width="71.9" height="3.6" rx="1.5" fill="#000" stroke-width="0.5"/>
<rect x="1182" y="470.2" width="71.9" height="3.6" rx="1.5" fill="#000" stroke-width="0.5"/>
<rect x="1182" y="481.1" width="71.9" height="3.6" rx="1.5" fill="#000" stroke-width="0.5"/>
<rect x="1182" y="492.3" width="71.9" height="3.6" rx="1.5" fill="#000" stroke-width="0.5"/>
<rect x="1182" y="503.6" width="71.9" height="3.6" rx="1.5" fill="#000" stroke-width="0.5"/>
<rect x="1182" y="514.8" width="71.9" height="3.6" rx="1.5" fill="#000" stroke-width="0.5"/>
<rect x="1188" y="526" width="62" height="5" rx="2.5" fill="#fff"/>
<path d="M1192.2 531.1V548.4Q1192.2 553.4 1197.2 553.4H1240.4Q1245.4 553.4 1245.4 548.4V531.1" fill="#fff"/>
<rect x="1195" y="384" width="31" height="14" fill="#fff"/>
<path d="M1201 384.5V397.5M1207 384.5V397.5M1195 388.8H1213M1195 393H1213" stroke-width="1.2"/>
<rect x="1211" y="378" width="5" height="22" fill="#000"/>
<rect x="1216" y="378" width="6" height="24" rx="2.5" fill="#fff"/>
<rect x="1222" y="384" width="4" height="14" fill="#fff"/>
<path d="M1190 391L1245 391"/>
<path d="M1219 378L1219 572"/>
<rect x="1035" y="572" width="16" height="22" fill="#fff"/>
<path d="M1034.9 571.5L1037 567L1049 567L1051.1 571.5Z" fill="#000" stroke-width="0.6"/>
<rect x="1037" y="565.3" width="12" height="2.2" fill="#fff" stroke-width="1"/>
<path d="M1040 565.5V569M1043 565.5V569M1046 565.5V569" stroke-width="1"/>
<path d="M1043 549.4L1043 598"/>
<path d="M1040 571.5L1040 594"/>
<rect x="1247" y="572" width="16" height="22" fill="#fff"/>
<path d="M1246.8 571.5L1248.9 567L1260.9 567L1263 571.5Z" fill="#000" stroke-width="0.6"/>
<rect x="1248.9" y="565.3" width="12" height="2.2" fill="#fff" stroke-width="1"/>
<path d="M1251.9 565.5V569M1254.9 565.5V569M1257.9 565.5V569" stroke-width="1"/>
<path d="M1255 549.4L1255 598"/>
<path d="M1252 571.5L1252 594"/>
<path d="M907.9 575.2L901.7 581.3L901.7 582.8L905.8 582.8L905.8 584.8L901.7 588.4L901.7 594.2L932.1 594.2L932.1 588.4L928 584.8L928 582.8L932.1 582.8L932.1 581.3L925.9 575.2Z" fill="#fff"/>
<rect x="910" y="571" width="14" height="4" fill="#fff"/>
<rect x="905" y="562" width="24" height="9" fill="#fff"/>
<path d="M910.4 557.5L923.4 557.5L928.4 562.5L905.4 562.5Z" fill="#000"/>
<rect x="910" y="533" width="13" height="25" fill="#fff"/>
<path d="M914.7 533.2V557.5M919.1 533.2V557.5M910.4 537.2H923.4M910.4 541.4H923.4M910.4 545.6H923.4M910.4 549.8H923.4M910.4 554H923.4" stroke-width="1.2"/>
<path d="M917 511L917 618.2"/>
<path d="M986.8 575.2L980.6 581.3L980.6 582.8L984.7 582.8L984.7 584.8L980.6 588.4L980.6 594.2L1011 594.2L1011 588.4L1006.9 584.8L1006.9 582.8L1011 582.8L1011 581.3L1004.8 575.2Z" fill="#fff"/>
<rect x="989" y="571" width="14" height="4" fill="#fff"/>
<rect x="984" y="562" width="24" height="9" fill="#fff"/>
<path d="M989.3 557.5L1002.3 557.5L1007.3 562.5L984.3 562.5Z" fill="#000"/>
<rect x="989" y="533" width="13" height="25" fill="#fff"/>
<path d="M993.6 533.2V557.5M998 533.2V557.5M989.3 537.2H1002.3M989.3 541.4H1002.3M989.3 545.6H1002.3M989.3 549.8H1002.3M989.3 554H1002.3" stroke-width="1.2"/>
<path d="M996 511L996 618.2"/>
<path d="M1064.8 575.2L1058.6 581.3L1058.6 582.8L1062.7 582.8L1062.7 584.8L1058.6 588.4L1058.6 594.2L1089 594.2L1089 588.4L1084.9 584.8L1084.9 582.8L1089 582.8L1089 581.3L1082.8 575.2Z" fill="#fff"/>
<rect x="1067" y="571" width="14" height="4" fill="#fff"/>
<rect x="1062" y="562" width="24" height="9" fill="#fff"/>
<path d="M1067.3 557.5L1080.3 557.5L1085.3 562.5L1062.3 562.5Z" fill="#000"/>
<rect x="1067" y="533" width="13" height="25" fill="#fff"/>
<path d="M1071.6 533.2V557.5M1076 533.2V557.5M1067.3 537.2H1080.3M1067.3 541.4H1080.3M1067.3 545.6H1080.3M1067.3 549.8H1080.3M1067.3 554H1080.3" stroke-width="1.2"/>
<path d="M1074 511L1074 618.2"/>
<path d="M1174.7 575.2L1168.5 581.3L1168.5 582.8L1172.6 582.8L1172.6 584.8L1168.5 588.4L1168.5 594.2L1198.9 594.2L1198.9 588.4L1194.8 584.8L1194.8 582.8L1198.9 582.8L1198.9 581.3L1192.7 575.2Z" fill="#fff"/>
<rect x="1177" y="571" width="14" height="4" fill="#fff"/>
<rect x="1172" y="562" width="24" height="9" fill="#fff"/>
<path d="M1177.2 557.5L1190.2 557.5L1195.2 562.5L1172.2 562.5Z" fill="#000"/>
<rect x="1177" y="533" width="13" height="25" fill="#fff"/>
<path d="M1181.5 533.2V557.5M1185.9 533.2V557.5M1177.2 537.2H1190.2M1177.2 541.4H1190.2M1177.2 545.6H1190.2M1177.2 549.8H1190.2M1177.2 554H1190.2" stroke-width="1.2"/>
<path d="M1184 511L1184 618.2"/>
<path d="M1222.6 575.2L1216.4 581.3L1216.4 582.8L1220.5 582.8L1220.5 584.8L1216.4 588.4L1216.4 594.2L1246.8 594.2L1246.8 588.4L1242.7 584.8L1242.7 582.8L1246.8 582.8L1246.8 581.3L1240.6 575.2Z" fill="#fff"/>
<rect x="1225" y="571" width="14" height="4" fill="#fff"/>
<rect x="1220" y="562" width="24" height="9" fill="#fff"/>
<path d="M1225.1 557.5L1238.1 557.5L1243.1 562.5L1220.1 562.5Z" fill="#000"/>
<rect x="1225" y="533" width="13" height="25" fill="#fff"/>
<path d="M1229.4 533.2V557.5M1233.8 533.2V557.5M1225.1 537.2H1238.1M1225.1 541.4H1238.1M1225.1 545.6H1238.1M1225.1 549.8H1238.1M1225.1 554H1238.1" stroke-width="1.2"/>
<path d="M1232 511L1232 618.2"/>
<path d="M1269.6 575.2L1263.4 581.3L1263.4 582.8L1267.5 582.8L1267.5 584.8L1263.4 588.4L1263.4 594.2L1293.8 594.2L1293.8 588.4L1289.7 584.8L1289.7 582.8L1293.8 582.8L1293.8 581.3L1287.6 575.2Z" fill="#fff"/>
<rect x="1272" y="571" width="14" height="4" fill="#fff"/>
<rect x="1267" y="562" width="24" height="9" fill="#fff"/>
<path d="M1272.1 557.5L1285.1 557.5L1290.1 562.5L1267.1 562.5Z" fill="#000"/>
<rect x="1272" y="533" width="13" height="25" fill="#fff"/>
<path d="M1276.4 533.2V557.5M1280.8 533.2V557.5M1272.1 537.2H1285.1M1272.1 541.4H1285.1M1272.1 545.6H1285.1M1272.1 549.8H1285.1M1272.1 554H1285.1" stroke-width="1.2"/>
<path d="M1279 511L1279 618.2"/>
<path d="M1112.2 575.2L1106 581.3L1106 582.8L1110.1 582.8L1110.1 584.8L1106 588.4L1106 594.2L1136.4 594.2L1136.4 588.4L1132.3 584.8L1132.3 582.8L1136.4 582.8L1136.4 581.3L1130.2 575.2Z" fill="#fff"/>
<rect x="1114" y="571" width="14" height="4" fill="#fff"/>
<rect x="1109" y="562" width="24" height="9" fill="#fff"/>
<path d="M1114.7 557.5L1127.7 557.5L1132.7 562.5L1109.7 562.5Z" fill="#000"/>
<rect x="1115" y="533" width="13" height="25" fill="#fff"/>
<path d="M1119 533.2V557.5M1123.4 533.2V557.5M1114.7 537.2H1127.7M1114.7 541.4H1127.7M1114.7 545.6H1127.7M1114.7 549.8H1127.7M1114.7 554H1127.7" stroke-width="1.2"/>
<path d="M1121 511L1121 618.2"/>
<path d="M1199 566H1216V580H1199ZM1204 566V580M1209 566V580M1199 573H1216" stroke-width="1.2"/>
<path d="M1200 586Q1209 596 1219 586" stroke-width="1.4"/>
<path d="M687.4 595L1615.4 595"/>
<rect x="848" y="1653" width="91" height="49"/>
<path d="M845.7 1652.9H818.6V1655.9Q818.6 1657.9 822.6 1658.4H835.7Q842.2 1659.4 842.2 1665.9V1689.5Q842.2 1696 835.7 1697H822.6Q818.6 1697.5 818.6 1699.5V1702.5H845.7"/>
<path d="M940.9 1652.9H967.7V1655.9Q967.7 1657.9 963.7 1658.4H950.9Q944.4 1659.4 944.4 1665.9V1689.5Q944.4 1696 950.9 1697H963.7Q967.7 1697.5 967.7 1699.5V1702.5H940.9"/>
<circle cx="893.3" cy="1677" r="10.2"/>
<path d="M859.6 1677L927.9 1677"/>
<path d="M879.1 1646.6V1641Q879.1 1637.7 882.8 1637.7H904Q907.7 1637.7 907.7 1641V1646.6" fill="#fff"/>
<rect x="879" y="1703" width="29" height="13"/>
<path d="M893 1643.3L893 1865.5"/>
<rect x="1368" y="1653" width="91" height="49"/>
<path d="M1365.6 1652.9H1338.5V1655.9Q1338.5 1657.9 1342.5 1658.4H1355.6Q1362.1 1659.4 1362.1 1665.9V1689.5Q1362.1 1696 1355.6 1697H1342.5Q1338.5 1697.5 1338.5 1699.5V1702.5H1365.6"/>
<path d="M1460.8 1652.9H1487.6V1655.9Q1487.6 1657.9 1483.6 1658.4H1470.8Q1464.3 1659.4 1464.3 1665.9V1689.5Q1464.3 1696 1470.8 1697H1483.6Q1487.6 1697.5 1487.6 1699.5V1702.5H1460.8"/>
<circle cx="1413.2" cy="1677" r="10.2"/>
<path d="M1379.5 1677L1447.8 1677"/>
<path d="M1399 1646.6V1641Q1399 1637.7 1402.7 1637.7H1423.9Q1427.6 1637.7 1427.6 1641V1646.6" fill="#fff"/>
<rect x="1399" y="1703" width="29" height="13"/>
<path d="M1413 1643.3L1413 1865.5"/>
<rect x="1511" y="1653" width="40" height="4" fill="#fff"/>
<rect x="1513" y="1657" width="36" height="5" rx="1"/>
<rect x="1512" y="1662" width="38" height="9" rx="2.5"/>
<path d="M1521 1661.5V1671.4M1540 1661.5V1671.4" stroke-width="1.3"/>
<path d="M1530 1628.3L1530 1680.5"/>
<path d="M2836.1 390L3321.6 390"/>
<path d="M3013.3 595L3321.6 595"/>
<path d="M3298 389.5L3298 804.9"/>
<path d="M3297.6 389.5L3305.5 448.5L3297.6 444L3289.7 448.5Z" fill="#000" stroke="none"/>
<path d="M3297.6 595L3289.7 536L3297.6 540.5L3305.5 536Z" fill="#000" stroke="none"/>
<path d="M16.7 -47C18.7 -52.6 24.4 -56 30.5 -56L34.2 -56C41.2 -56 43.5 -52.1 41.3 -45.9C39.7 -41.4 37 -38.1 32.1 -33.6L0 0L25.8 0M54.6 -48.2L57.4 -56L82 -56L49.3 0M86.8 0L88.5 0Q100.2 0 104.4 -11.8L115.9 -44.2Q120.1 -56 108.4 -56L106.7 -56Q94.9 -56 90.7 -44.2L79.2 -11.8Q75 0 86.8 0" transform="translate(3265.1 773.1) rotate(-90)" stroke-width="3.8" stroke-linecap="round" stroke-linejoin="round"/>
<path d="M2387.1 1842L3033.1 1842"/>
<path d="M2387.1 1841.7L2446.1 1833.8L2441.6 1841.7L2446.1 1849.6Z" fill="#000" stroke="none"/>
<path d="M3033.1 1841.7L2974.1 1849.6L2978.6 1841.7L2974.1 1833.8Z" fill="#000" stroke="none"/>
<path d="M23.3 -30.8L23.3 -30.8Q35 -30.8 39.2 -42.6L39.8 -44.2Q44 -56 32.2 -56L32.2 -56Q20.4 -56 16.3 -44.2L15.7 -42.6Q11.5 -30.8 23.3 -30.8M12.3 0L12.9 0Q25.2 0 29.6 -12.3L31.8 -18.5Q36.1 -30.8 23.8 -30.8L23.3 -30.8Q10.9 -30.8 6.6 -18.5L4.4 -12.3Q0 0 12.3 0M54.2 -47C56.2 -52.6 61.9 -56 68 -56L71.7 -56C78.7 -56 81 -52.1 78.9 -45.9C77.3 -41.4 74.6 -38.1 69.6 -33.6L37.5 0L63.3 0M86.8 0L88.5 0Q100.2 0 104.4 -11.8L115.9 -44.2Q120.1 -56 108.4 -56L106.7 -56Q94.9 -56 90.7 -44.2L79.2 -11.8Q75 0 86.8 0" transform="translate(2649 1809)" stroke-width="3.8" stroke-linecap="round" stroke-linejoin="round"/>
<path d="M2246.7 1984L3173.2 1984"/>
<path d="M2246.7 1984.1L2305.7 1976.2L2301.2 1984.1L2305.7 1992Z" fill="#000" stroke="none"/>
<path d="M3173.2 1984.1L3114.2 1992L3118.7 1984.1L3114.2 1976.2Z" fill="#000" stroke="none"/>
<path d="M2247 1559L2247 2006.2"/>
<path d="M3173 1559L3173 2006.2"/>
<path d="M15 -42.3L32.8 -56L12.9 0M39.8 -42.3L57.6 -56L37.7 0M83 -24.6L71.2 -24.6Q60 -24.6 64 -35.8L67.2 -44.8Q71.2 -56 82.4 -56L82.9 -56Q94.1 -56 90.2 -44.8L86.6 -34.7C80.6 -17.9 72.3 -3.9 58 -0M98.9 0L100.6 0Q112.3 0 116.5 -11.8L128 -44.2Q132.2 -56 120.5 -56L118.8 -56Q107 -56 102.8 -44.2L91.3 -11.8Q87.1 0 98.9 0" transform="translate(2643.3 1950)" stroke-width="3.8" stroke-linecap="round" stroke-linejoin="round"/>
<path d="M2698 136.2L2727.3 24.3L2756.2 136.2M2707.2 102.1H2747.3" stroke-width="7.5" stroke-linecap="round" stroke-linejoin="round"/>
<rect x="2320" y="243" width="784" height="247" fill="#fff"/>
<path d="M2293.2 366L3127.8 366" stroke-dasharray="124 18 19 16"/>
<rect x="2311" y="217" width="9" height="299"/>
<path d="M2313.4 216.6V515.9M2316.1 220V512"/>
<rect x="2305" y="275" width="6" height="182" rx="3"/>
<path d="M2308.8 275.3L2308.8 457.3" stroke-width="2.6"/>
<path d="M2283.3 284L2331.8 284"/>
<path d="M2291.3 301L2339.8 301"/>
<path d="M2276.1 335L2335.3 335"/>
<path d="M2276.1 398L2335.3 398"/>
<path d="M2291.3 431L2339.8 431"/>
<path d="M2283.3 448L2331.8 448"/>
<rect x="2342" y="189" width="84" height="8" rx="2" fill="#fff"/>
<path d="M2346.5 197.2V213Q2346.5 219.3 2351.8 219.3H2417.9Q2422.7 219.3 2422.7 213V197.2"/>
<path d="M2351.8 219.3V243M2417.9 219.3V243M2351.8 243Q2384.9 249 2417.9 243"/>
<path d="M2385 165.2L2385 268.6"/>
<path d="M2618.6 243V226.8Q2618.6 223.8 2622 223.8H2641Q2644.5 223.8 2644.5 226.8V243"/>
<path d="M2620 227.3L2643 227.3" stroke-width="3"/>
<path d="M2618.6 232L2644.5 232"/>
<path d="M2625 226.8V232.3M2630.6 226.8V232.3M2637 226.8V232.3" stroke-width="1.2"/>
<path d="M2618.6 489.6V505.5Q2618.6 508.5 2622 508.5H2641Q2644.5 508.5 2644.5 505.5V489.6"/>
<path d="M2620 505L2643 505" stroke-width="3"/>
<path d="M2618.6 500L2644.5 500"/>
<path d="M2625 505.5V500M2630.6 505.5V500M2637 505.5V500" stroke-width="1.2"/>
<path d="M2631 208.1L2631 264.6"/>
<path d="M2631 476.5L2631 525.8"/>
<path d="M2365 489.6L2365 509.8"/>
<path d="M2405 489.6L2405 509.8"/>
<rect x="2355" y="510" width="67" height="3" rx="1.5"/>
<rect x="2355" y="516" width="67" height="2" rx="1.5"/>
<rect x="2357" y="518" width="63" height="4" rx="1.5"/>
<path d="M2357 514.4L2420 514.4" stroke-width="2.2"/>
<path d="M2364.6 521.8Q2366 537.8 2377 537.8H2392Q2403 537.8 2404.6 521.8"/>
<rect x="2407.5" y="507" width="10" height="2.8" stroke-width="1.2"/>
<rect x="2409" y="521.8" width="7" height="8.2" fill="#000" stroke-width="0.5"/>
<path d="M2385 466.4L2385 562.3"/>
<path d="M2371 487.1L2371 545.2"/>
<path d="M2413 487.1L2413 545.2"/>
<rect x="2534" y="402" width="33" height="109" fill="#fff"/>
<path d="M2440.8 563V517.4Q2440.8 511.4 2446.8 511.4H2587.7Q2593.7 511.4 2593.7 517.4V563" fill="#fff" stroke-width="3.2"/>
<path d="M2442.8 563V594.4M2592.3 563V594.4M2442.8 570.7H2529.4V594.4"/>
<rect x="2456" y="575" width="19" height="18"/>
<path d="M2461.9 581.5H2467.1M2464.5 578.9V584.1"/>
<rect x="2592" y="575" width="17" height="19"/>
<rect x="2595" y="566.7" width="10.8" height="8.5" stroke-width="2.2"/>
<path d="M2595 570.5H2605.8M2600.4 563V581" stroke-width="1.3"/>
<path d="M2605.8 574.8L2662.5 569.1"/>
<path d="M2525.9 582L2580.5 582"/>
<path d="M2552 555.1L2552 609.7"/>
<rect x="2549.8" y="582.3" width="4.4" height="12.1" stroke-width="1.2"/>
<circle cx="2552" cy="582.3" r="2.2" fill="#000" stroke-width="0.5"/>
<path d="M2426 571.1L2426 632"/>
<rect x="2619" y="589" width="390" height="6" fill="#fff"/>
<path d="M2619 591L3009 591"/>
<path d="M2451 607.6L2451 1646.7"/>
<path d="M2969 607.6L2969 1646.7"/>
<rect x="2438" y="1647" width="544" height="5"/>
<path d="M2415.9 1148.2V1117Q2415.9 1111.9 2421 1111.9H2999Q3003.9 1111.9 3003.9 1117V1145L3006 1147.7H3007.8V1107.7H2416Q2410.8 1107.7 2410.8 1112.5V1148.2H2415.9M2450.9 1147.9H2969.2"/>
<rect x="2475" y="574.2" width="39" height="525.8" fill="#fff" stroke-width="0"/>
<rect x="2475" y="1100" width="19" height="80" fill="#fff" stroke-width="0"/>
<path d="M2475 700V581Q2475 574.2 2481.5 574.2H2487.5Q2494 574.2 2494 581V700"/>
<path d="M2494 700V581Q2494 574.2 2500.5 574.2H2507.5Q2514 574.2 2514 581V700"/>
<path d="M2494 581L2494 1100"/>
<path d="M2504 585L2504 1100"/>
<path d="M2514 581L2514 1100"/>
<path d="M2494 1100C2494 1131.2 2505.3 1149 2526.2 1154M2504 1100C2504 1125.8 2511.8 1140 2526.2 1145M2514 1100C2514 1120.4 2518.3 1131 2526.2 1136"/>
<path d="M2475 581L2475 1178"/>
<path d="M2484 585L2484 1178"/>
<path d="M2494 581L2494 1178"/>
<path d="M2475 1178C2475 1209.8 2492.9 1228 2526.2 1233M2484.4 1178C2484.4 1204.4 2499 1219 2526.2 1224M2494 1178C2494 1199 2505.3 1210 2526.2 1215"/>
<rect x="2456" y="671" width="76" height="16" fill="#fff"/>
<path d="M2440.6 678L2549.9 678"/>
<path d="M2467 651.8L2467 706.3"/>
<path d="M2522 651.8L2522 706.3"/>
<rect x="2456" y="970" width="76" height="16" fill="#fff"/>
<path d="M2440.6 978L2549.9 978"/>
<path d="M2467 951L2467 1005.5"/>
<path d="M2522 951L2522 1005.5"/>
<path d="M2556.6 1126H2548V1160H2556.6" fill="#fff"/>
<path d="M2548 1124.8H2532L2526.2 1131V1155L2532 1161.2H2548Z" fill="#fff"/>
<path d="M2532 1124.8V1161.2M2526.2 1136H2548M2526.2 1150H2548M2552.5 1126V1160" stroke-width="1.3"/>
<path d="M2546.8 1126L2546.8 1160" stroke-width="3"/>
<path d="M2556.6 1205H2548V1239H2556.6" fill="#fff"/>
<path d="M2548 1203.8H2532L2526.2 1210V1234L2532 1240.2H2548Z" fill="#fff"/>
<path d="M2532 1203.8V1240.2M2526.2 1215H2548M2526.2 1229H2548M2552.5 1205V1239" stroke-width="1.3"/>
<path d="M2546.8 1205L2546.8 1239" stroke-width="3"/>
<rect x="2557" y="1101" width="134" height="163" fill="#fff"/>
<path d="M2624 1079.2L2624 1318.3"/>
<path d="M2534.7 1183L2715.5 1183"/>
<circle cx="2563.3" cy="1108.1" r="2.6" fill="#000" stroke-width="0.5"/>
<path d="M2558.8 1108.1H2567.8M2563.3 1103.6V1112.6"/>
<circle cx="2563.3" cy="1183.1" r="2.6" fill="#000" stroke-width="0.5"/>
<path d="M2558.8 1183.1H2567.8M2563.3 1178.6V1187.6"/>
<circle cx="2563.3" cy="1257.9" r="2.6" fill="#000" stroke-width="0.5"/>
<path d="M2558.8 1257.9H2567.8M2563.3 1253.4V1262.4"/>
<circle cx="2624" cy="1108.1" r="2.6" fill="#000" stroke-width="0.5"/>
<path d="M2619.5 1108.1H2628.5M2624 1103.6V1112.6"/>
<circle cx="2624" cy="1257.9" r="2.6" fill="#000" stroke-width="0.5"/>
<path d="M2619.5 1257.9H2628.5M2624 1253.4V1262.4"/>
<circle cx="2684.8" cy="1108.1" r="2.6" fill="#000" stroke-width="0.5"/>
<path d="M2680.3 1108.1H2689.3M2684.8 1103.6V1112.6"/>
<circle cx="2684.8" cy="1183.1" r="2.6" fill="#000" stroke-width="0.5"/>
<path d="M2680.3 1183.1H2689.3M2684.8 1178.6V1187.6"/>
<circle cx="2684.8" cy="1257.9" r="2.6" fill="#000" stroke-width="0.5"/>
<path d="M2680.3 1257.9H2689.3M2684.8 1253.4V1262.4"/>
<rect x="2608" y="1264" width="33" height="4" fill="#fff"/>
<path d="M2605.8 1268.5H2642.6V1289L2638.5 1295.8H2609.9L2605.8 1289Z" fill="#fff"/>
<path d="M2605.8 1289H2642.6M2612 1268.5V1289M2617.5 1264V1289M2631.5 1264V1289M2636.5 1268.5V1289" stroke-width="1.3"/>
<path d="M2618.8 1270L2618.8 1288" stroke-width="2.6"/>
<path d="M2630 1270L2630 1288" stroke-width="2.6"/>
<rect x="2441" y="642" width="9" height="72"/>
<path d="M2446 642.5L2446 713.9"/>
<path d="M2400.6 660L2441.1 660"/>
<path d="M2400.6 697L2441.1 697"/>
<rect x="2441" y="1548" width="9" height="71" fill="#fff"/>
<path d="M2446 1547.7L2446 1619.1"/>
<path d="M2400.1 1564L2441.1 1564"/>
<path d="M2400.1 1602L2441.1 1602"/>
<path d="M2418.4 1559L2474.6 1559"/>
<path d="M2418.4 1584L2474.6 1584"/>
<path d="M2418.4 1608L2474.6 1608"/>
<path d="M2258 703L2258 1559"/>
<path d="M2315 703L2315 1559"/>
<path d="M2333 703L2333 1559"/>
<path d="M2389 703L2389 1559"/>
<path d="M2246.6 703V694.9Q2246.6 691.2 2251.7 689.9L2391 653.7Q2400.6 652 2400.6 658V703Z" fill="#fff"/>
<path d="M2246.6 1559V1567.3Q2246.6 1571 2251.7 1572.4L2391 1608.6Q2400.6 1610 2400.6 1604V1559Z" fill="#fff"/>
<rect x="2252.6" y="818.9" width="4.3" height="115.4" fill="#000" stroke-width="0.5"/>
<path d="M2249.7 826L2262.8 826"/>
<path d="M2249.7 929L2262.8 929"/>
<path d="M2249.7 876L2389.5 876"/>
<rect x="2315" y="871" width="18" height="10"/>
<rect x="2390" y="860" width="3" height="32" fill="#fff"/>
<rect x="2394" y="868" width="14" height="17" fill="#fff"/>
<rect x="2408" y="870" width="8" height="12" fill="#fff"/>
<path d="M2399 868.1V884.8M2403.5 868.1V884.8M2394 873H2408M2394 880H2408M2408 876.3H2415.9" stroke-width="1.3"/>
<path d="M2451 640L2440 636Q2431 631 2428 622L2425.5 612Q2424 608.8 2419 608.8H2392Q2384 608.8 2382.5 616L2374.5 651Q2373.5 657.5 2379 658.5Q2385 659.5 2388 655.5Q2391 640 2402.5 640Q2413 640 2416.5 654L2428.5 697Q2431.5 706.5 2440 707.5L2448 706.5L2451 703Z" fill="#fff"/>
<rect x="2441" y="707" width="9" height="7" fill="#fff"/>
<rect x="2969" y="1548" width="9" height="71"/>
<path d="M2974 1547.7L2974 1619.1"/>
<path d="M2977.8 1608L3003 1608"/>
<rect x="2969" y="642" width="9" height="72"/>
<path d="M3162 703L3162 1559"/>
<path d="M3105 703L3105 1559"/>
<path d="M3087 703L3087 1559"/>
<path d="M3030 703L3030 1559"/>
<path d="M3173.3 703V694.9Q3173.3 691.2 3168.2 689.9L3028.5 653.7Q3018.9 652 3018.9 658V703Z" fill="#fff"/>
<path d="M3173.3 1559V1567.3Q3173.3 1571 3168.2 1572.4L3028.5 1608.6Q3018.9 1610 3018.9 1604V1559Z" fill="#fff"/>
<path d="M2977.8 1596L3018.9 1596"/>
<path d="M2969.2 641.9L2981 636Q2990 630 2993 620L2996 612Q2998 608.6 3003 608.6H3031Q3037 608.6 3038.5 615L3047 652Q3048 657.5 3043 658H3033Q3032 638.5 3020.4 638.5Q3010 638.5 3006 655L3003 667H2969.2Z" fill="#fff"/>
<path d="M3003 667L3019 659"/>
<path d="M2993 571L2993 632"/>
<rect x="2883" y="642" width="71" height="72" fill="#fff"/>
<path d="M2889.8 649.4L2898.8 658.4M2889.8 658.4L2898.8 649.4"/>
<path d="M2938.2 649.4L2947.2 658.4M2938.2 658.4L2947.2 649.4"/>
<rect x="2883" y="1548" width="71" height="71" fill="#fff"/>
<path d="M2889.8 1604.6L2898.8 1613.6M2889.8 1613.6L2898.8 1604.6"/>
<path d="M2938.2 1604.6L2947.2 1613.6M2938.2 1613.6L2947.2 1604.6"/>
<rect x="2734.2" y="703" width="16" height="856" fill="#fff" stroke-width="0"/>
<path d="M2734 703L2734 1559"/>
<path d="M2750 703L2750 1559"/>
<rect x="2773.6" y="703" width="16" height="856" fill="#fff" stroke-width="0"/>
<path d="M2774 703L2774 1559"/>
<path d="M2790 703L2790 1559"/>
<rect x="2813" y="703" width="16" height="856" fill="#fff" stroke-width="0"/>
<path d="M2813 703L2813 1559"/>
<path d="M2829 703L2829 1559"/>
<rect x="2852.4" y="703" width="16" height="856" fill="#fff" stroke-width="0"/>
<path d="M2852 703L2852 1559"/>
<path d="M2868 703L2868 1559"/>
<rect x="2891.8" y="703" width="16" height="856" fill="#fff" stroke-width="0"/>
<path d="M2892 703L2892 1559"/>
<path d="M2908 703L2908 1559"/>
<rect x="2931.2" y="703" width="16" height="856" fill="#fff" stroke-width="0"/>
<path d="M2931 703L2931 1559"/>
<path d="M2947 703L2947 1559"/>
<rect x="2970.6" y="703" width="16" height="856" fill="#fff" stroke-width="0"/>
<path d="M2971 703L2971 1559"/>
<path d="M2987 703L2987 1559"/>
<rect x="3010" y="703" width="16" height="856" fill="#fff" stroke-width="0"/>
<path d="M3010 703L3010 1559"/>
<path d="M3026 703L3026 1559"/>
<rect x="3049.4" y="703" width="16" height="856" fill="#fff" stroke-width="0"/>
<path d="M3049 703L3049 1559"/>
<path d="M3065 703L3065 1559"/>
<rect x="3088.8" y="703" width="16" height="856" fill="#fff" stroke-width="0"/>
<path d="M3089 703L3089 1559"/>
<path d="M3105 703L3105 1559"/>
<path d="M2719.8 703V694.5Q2719.8 690.5 2725.8 689.4L2912.5 654Q2918.5 652.5 2924.5 654L3111.2 689.4Q3117.2 690.5 3117.2 694.5V703Z" fill="#fff"/>
<path d="M2719.8 1559V1567.5Q2719.8 1571.5 2725.8 1572.6L2912.5 1608Q2918.5 1609.5 2924.5 1608L3111.2 1572.6Q3117.2 1571.5 3117.2 1567.5V1559Z" fill="#fff"/>
<circle cx="2893.4" cy="1610.9" r="7.5" fill="#000" stroke-width="0.5"/>
<circle cx="2943.8" cy="1610.9" r="7.5" fill="#000" stroke-width="0.5"/>
<circle cx="2892" cy="1609.5" r="2.2" fill="#fff" stroke-width="0"/>
<circle cx="2942.4" cy="1609.5" r="2.2" fill="#fff" stroke-width="0"/>
<rect x="2406.7" y="595" width="606.6" height="13" fill="#fff" stroke-width="0"/>
<path d="M2406.7 595L3013.3 595"/>
<path d="M2406.7 601L3013.3 601" stroke-width="4"/>
<path d="M2407 595V601M2411 601V608H3010V601M3013 595V601"/>
<rect x="2475" y="590" width="39" height="22" fill="#fff" stroke-width="0"/>
<path d="M2475 588L2475 614"/>
<path d="M2484 588L2484 614"/>
<path d="M2494 588L2494 614"/>
<path d="M2504 588L2504 614"/>
<path d="M2514 588L2514 614"/>
<rect x="2932" y="554" width="5" height="40" fill="#fff"/>
<path d="M2908.7 573L2960.8 573"/>
<rect x="2854" y="402" width="31" height="192"/>
<path d="M2843.2 429.2L2843.2 432L2845.6 436L2852.1 439.5L2859.1 441L2859.4 448.7L2853.1 449.3L2853.1 452L2854.6 461L2858.1 468L2868.1 472L2881.1 475.3L2886.6 478.5L2887.5 483.5L2885.1 487.7L2864 488L2864 500L2865.6 508L2870.1 514L2881.1 518.5L2886.6 521.5L2887.5 526.5L2885.1 531.3L2864 531.3L2864 566.8L2808.2 566.8L2808.2 531.3L2787.1 531.3L2784.7 526.5L2785.6 521.5L2791.1 518.5L2802.1 514L2806.6 508L2808.2 500L2808.2 488L2787.1 487.7L2784.7 483.5L2785.6 478.5L2791.1 475.3L2804.1 472L2814.1 468L2817.6 461L2819.1 452L2819.1 449.3L2812.8 448.7L2813.1 441L2820.1 439.5L2826.6 436L2829 432L2829 429.2Z" fill="#fff"/>
<path d="M2813.1 440L2859.1 440"/>
<path d="M2813.1 449L2859.1 449"/>
<path d="M2819.1 452L2853.1 452"/>
<path d="M2789.1 476L2883.1 476"/>
<path d="M2787.1 488L2885.1 488"/>
<path d="M2789.1 520L2883.1 520"/>
<path d="M2787.1 531L2885.1 531"/>
<rect x="2777" y="567" width="118" height="10" rx="4" fill="#fff"/>
<rect x="2792" y="556" width="16" height="11" fill="#fff"/>
<rect x="2795" y="548" width="10" height="8" fill="#fff"/>
<path d="M2797.4 548V566.8M2802.4 548V566.8M2791.9 560H2807.9" stroke-width="1.2"/>
<rect x="2792" y="577" width="16" height="5" fill="#fff"/>
<rect x="2795" y="582" width="10" height="10" fill="#fff"/>
<path d="M2797.4 581.5V592.5M2802.4 581.5V592.5" stroke-width="1.2"/>
<path d="M2800 524.2L2800 614.3"/>
<rect x="2864" y="556" width="16" height="11" fill="#fff"/>
<rect x="2867" y="548" width="10" height="8" fill="#fff"/>
<path d="M2869.7 548V566.8M2874.7 548V566.8M2864.2 560H2880.2" stroke-width="1.2"/>
<rect x="2864" y="577" width="16" height="5" fill="#fff"/>
<rect x="2867" y="582" width="10" height="10" fill="#fff"/>
<path d="M2869.7 581.5V592.5M2874.7 581.5V592.5" stroke-width="1.2"/>
<path d="M2872 524.2L2872 614.3"/>
<rect x="2829" y="390" width="14" height="39" fill="#fff"/>
<path d="M2833.7 389.5V429.2M2838.5 389.5V429.2M2829 394H2843.2M2829 398.5H2843.2M2829 403H2843.2M2829 414H2843.2M2829 418.5H2843.2M2829 423H2843.2" stroke-width="1.2"/>
<rect x="2827.5" y="405.8" width="17.2" height="5.2" fill="#000" stroke-width="0.5"/>
<path d="M2824.1 408.5L2849.1 408.5" stroke-width="2.2"/>
<path d="M2814.1 428L2843.1 428"/>
<path d="M2836 384L2836 614.3"/>
<path d="M2732.4 378.9H2797.1L2814.8 407.3H2829V409.7H2813L2798.9 402.7H2736.8" fill="#fff"/>
<rect x="2688" y="379" width="44" height="23" rx="2" fill="#fff"/>
<circle cx="2700.4" cy="391.2" r="5.9" stroke-width="2.4"/>
<path d="M2691.5 391.2H2709.3M2700.4 382.3V400.1" stroke-width="1.3"/>
<circle cx="2719.9" cy="391.2" r="5.9" stroke-width="2.4"/>
<path d="M2711 391.2H2728.8M2719.9 382.3V400.1" stroke-width="1.3"/>
<path d="M2682.3 424.5V408Q2682.3 401.9 2688.3 401.9H2731.7Q2737.7 401.9 2737.7 408V424.5" fill="#fff"/>
<rect x="2679" y="424" width="62" height="6" rx="2.5" fill="#fff"/>
<rect x="2684" y="430" width="52" height="97" fill="#fff"/>
<rect x="2674.3" y="437.4" width="72" height="3.6" rx="1.5" fill="#000" stroke-width="0.5"/>
<rect x="2674.3" y="448" width="72" height="3.6" rx="1.5" fill="#000" stroke-width="0.5"/>
<rect x="2674.3" y="460" width="72" height="3.6" rx="1.5" fill="#000" stroke-width="0.5"/>
<rect x="2674.3" y="470.7" width="72" height="3.6" rx="1.5" fill="#000" stroke-width="0.5"/>
<rect x="2674.3" y="482.1" width="72" height="3.6" rx="1.5" fill="#000" stroke-width="0.5"/>
<rect x="2674.3" y="492.8" width="72" height="3.6" rx="1.5" fill="#000" stroke-width="0.5"/>
<rect x="2674.3" y="504" width="72" height="3.6" rx="1.5" fill="#000" stroke-width="0.5"/>
<rect x="2674.3" y="515.2" width="72" height="3.6" rx="1.5" fill="#000" stroke-width="0.5"/>
<rect x="2680" y="526" width="62" height="6" rx="2.5" fill="#fff"/>
<rect x="2683" y="532" width="55" height="8" fill="#fff"/>
<path d="M2683.2 536L2737.5 536"/>
<path d="M2663.5 589V560Q2663.5 540.4 2683.3 540.4H2737.3Q2757.1 540.4 2757.1 560V589"/>
<path d="M2670 589V563Q2670 546.8 2686.3 546.8H2734.3Q2750.6 546.8 2750.6 563V589"/>
<path d="M2683.3 546.8L2686.8 554.9M2737.3 546.8L2733.4 554.9"/>
<rect x="2687" y="555" width="46" height="34" fill="#fff"/>
<path d="M2670 568L2686.8 568"/>
<path d="M2733.4 568L2750.6 568"/>
<rect x="2670" y="586.5" width="16.8" height="2.5" fill="#000" stroke-width="0.5"/>
<rect x="2733.4" y="586.5" width="17.2" height="2.5" fill="#000" stroke-width="0.5"/>
<circle cx="2700.6" cy="565.6" r="5.9" stroke-width="2.4"/>
<path d="M2691.7 565.6H2709.5M2700.6 556.7V574.5" stroke-width="1.3"/>
<circle cx="2720.3" cy="565.6" r="5.9" stroke-width="2.4"/>
<path d="M2711.4 565.6H2729.2M2720.3 556.7V574.5" stroke-width="1.3"/>
<circle cx="2387.1" cy="1677.1" r="39.2"/>
<circle cx="3033.1" cy="1677.1" r="39.2"/>
<rect x="2328" y="1652" width="765" height="51" fill="#fff"/>
<path d="M2327.8 1657L3092.7 1657"/>
<path d="M2327.8 1698L3092.7 1698"/>
<circle cx="2387.1" cy="1677.1" r="10.2"/>
<path d="M2353.1 1677L2421.4 1677"/>
<path d="M2387 1642.8L2387 1865.1"/>
<circle cx="3033.1" cy="1677.1" r="10.2"/>
<path d="M2999.1 1677L3067.4 1677"/>
<path d="M3033 1642.8L3033 1865.1"/>
<rect x="2692" y="1652" width="36" height="4" fill="#fff"/>
<rect x="2694" y="1656" width="32" height="4" rx="1"/>
<rect x="2690" y="1660" width="40" height="12" rx="3" fill="#fff"/>
<path d="M2700.5 1660.5V1671.6M2719.5 1660.5V1671.6" stroke-width="1.3"/>
<path d="M2494.3 1607L2700.9 1607"/>
<path d="M2531.5 1607.2L2522.8 1622.4L2505.2 1622.4L2496.5 1607.2L2505.2 1592L2522.8 1592Z" fill="#fff"/>
<circle cx="2514" cy="1607.2" r="13.8"/>
<path d="M2494.3 1607L2535 1607"/>
<path d="M2514 1589L2514 1626.5"/>
<path d="M2528 1584Q2536 1571 2541 1585Q2546 1604 2555 1605M2554 1612Q2540 1632 2528 1612Q2522 1596 2528 1584M2560 1606Q2566 1580 2571 1579Q2582 1583 2590 1586Q2598 1592 2597 1604M2560 1615Q2572 1630 2586 1620" stroke-width="1.4"/>
<path d="M2530.5 1563L2541 1579L2528 1584M2546 1567L2532 1579M2561.5 1567L2577 1580M2578 1563L2568 1579" stroke-width="1.4"/>
<circle cx="2536.2" cy="1575.5" r="2.6" fill="#fff" stroke-width="1.4"/>
<circle cx="2571.5" cy="1575.5" r="2.6" fill="#fff" stroke-width="1.4"/>
<rect x="2552" y="1600" width="5.5" height="14" rx="2" fill="#fff" stroke-width="2.2"/>
<circle cx="2554.8" cy="1613" r="5" stroke-width="2"/>
<path d="M2603.5 1607.2L2598.2 1616.3L2587.8 1616.3L2582.5 1607.2L2587.8 1598.1L2598.2 1598.1Z" stroke-width="2"/>
<circle cx="2593" cy="1607.2" r="6.5" fill="#000" stroke-width="0.5"/>
<circle cx="2655.9" cy="1607.2" r="9.2" stroke-width="3.6"/>
<path d="M2648.9 1607.2H2662.9M2655.9 1600.2V1614.2"/>
<path d="M2593 1573.8L2593 1641.9"/>
<path d="M2656 1573.8L2656 1641.9"/>
<path d="M2675 1606.3H2700M2687.2 1598V1613" stroke-width="1.4"/>
<path d="M2679 1605L2696 1605L2694 1609L2681 1609Z" fill="#000" stroke-width="0.5"/>
<path d="M2682 1612.5L2692.5 1612.5" stroke-width="2.5"/>
<path d="M2710 354.8L2710 1728.5"/>
<path d="M2843.2 390L3321.6 390"/>
<path d="M491.6 3123L1741.5 3123"/>
<path d="M491.6 3123.1L550.6 3115.2L546.1 3123.1L550.6 3131Z" fill="#000" stroke="none"/>
<path d="M1741.5 3123.1L1682.5 3131L1687 3123.1L1682.5 3115.2Z" fill="#000" stroke="none"/>
<path d="M492 2900L492 3147.2"/>
<path d="M1742 2480L1742 3147.2"/>
<path d="M15 -42.3L32.8 -56L12.9 0M37.6 -31.4L49.4 -31.4Q60.6 -31.4 56.6 -20.2L53.4 -11.2Q49.4 0 38.2 0L37.7 0Q26.5 0 30.5 -11.2L34 -21.3C40 -38.1 48.3 -52.1 62.6 -56M74.1 0L75.8 0Q87.5 0 91.7 -11.8L103.2 -44.2Q107.4 -56 95.6 -56L94 -56Q82.2 -56 78 -44.2L66.5 -11.8Q62.3 0 74.1 0M111.6 0L113.3 0Q125 0 129.2 -11.8L140.8 -44.2Q144.9 -56 133.2 -56L131.5 -56Q119.7 -56 115.6 -44.2L104 -11.8Q99.8 0 111.6 0" transform="translate(1048.8 3091.3)" stroke-width="3.8" stroke-linecap="round" stroke-linejoin="round"/>
<path d="M499.3 2098.7H638.4Q645.4 2098.7 645.4 2105.7V2489.6L641.4 2495.6H499.3Q492.3 2495.6 492.3 2488.6V2105.7Q492.3 2098.7 499.3 2098.7Z" fill="#fff"/>
<path d="M501.9 2108.6L636.4 2287.7"/>
<path d="M501.9 2486.2L636.4 2306.5"/>
<path d="M499.3 2515.7H638.4Q645.4 2515.7 645.4 2522.7V2906.6Q645.4 2913.6 638.4 2913.6H499.3Q492.3 2913.6 492.3 2906.6V2522.7Q492.3 2515.7 499.3 2515.7Z" fill="#fff"/>
<path d="M501.9 2527.3L636 2700"/>
<path d="M501.9 2903.7L636 2729"/>
<rect x="709" y="2042" width="397" height="154" rx="7" fill="#fff"/>
<path d="M718.2 2053.7L898.5 2186.6"/>
<path d="M1097.2 2053.7L916.9 2186.6"/>
<rect x="1126" y="2042" width="398" height="154" rx="7" fill="#fff"/>
<path d="M1134.5 2053.7L1315.7 2186.6"/>
<path d="M1515.3 2053.7L1334.1 2186.6"/>
<rect x="709" y="2816" width="397" height="153" rx="7" fill="#fff"/>
<path d="M718.2 2959.7L898.5 2825.7"/>
<path d="M1097.2 2959.7L916.9 2825.7"/>
<rect x="1126" y="2816" width="398" height="153" rx="7" fill="#fff"/>
<path d="M1134.5 2959.7L1315.7 2825.7"/>
<path d="M1515.3 2959.7L1334.1 2825.7"/>
<path d="M1594.3 2098.7H1734.5Q1741.5 2098.7 1741.5 2105.7V2489.6L1737.5 2495.6H1594.3Q1587.3 2495.6 1587.3 2488.6V2105.7Q1587.3 2098.7 1594.3 2098.7Z" fill="#fff"/>
<path d="M1730.9 2108.6L1596.2 2287.7"/>
<path d="M1730.9 2486.2L1596.2 2306.5"/>
<rect x="889" y="2196" width="37" height="6"/>
<rect x="1306" y="2196" width="38" height="6"/>
<rect x="889" y="2809" width="37" height="7"/>
<rect x="1306" y="2809" width="38" height="7"/>
<rect x="1581" y="2279" width="6" height="38"/>
<path d="M1400.6 2202.5V2170Q1400.6 2164.6 1407.6 2164.6Q1414.7 2164.6 1414.7 2170V2202.5" fill="#fff"/>
<path d="M1400.6 2809V2841Q1400.6 2847 1407.6 2847Q1414.7 2847 1414.7 2841V2809" fill="#fff"/>
<rect x="798" y="2202" width="783" height="607" fill="#fff"/>
<path d="M794.4 2223.1H808.4M801.4 2216.1V2230.1"/>
<path d="M794.4 2790.3H808.4M801.4 2783.3V2797.3"/>
<path d="M857.5 2223.1H871.5M864.5 2216.1V2230.1"/>
<path d="M857.5 2790.3H871.5M864.5 2783.3V2797.3"/>
<path d="M920.4 2223.1H934.4M927.4 2216.1V2230.1"/>
<path d="M920.4 2790.3H934.4M927.4 2783.3V2797.3"/>
<path d="M983.3 2223.1H997.3M990.3 2216.1V2230.1"/>
<path d="M983.3 2790.3H997.3M990.3 2783.3V2797.3"/>
<path d="M1046 2223.1H1060M1053 2216.1V2230.1"/>
<path d="M1046 2790.3H1060M1053 2783.3V2797.3"/>
<path d="M1109 2223.1H1123M1116 2216.1V2230.1"/>
<path d="M1109 2790.3H1123M1116 2783.3V2797.3"/>
<path d="M1171.7 2223.1H1185.7M1178.7 2216.1V2230.1"/>
<path d="M1171.7 2790.3H1185.7M1178.7 2783.3V2797.3"/>
<path d="M1241.8 2214.5V2231.5M1241.8 2223.1H1249"/>
<path d="M1234.8 2790.3H1248.8M1241.8 2783.3V2797.3"/>
<path d="M1298.6 2223.1H1312.6M1305.6 2216.1V2230.1"/>
<path d="M1298.6 2790.3H1312.6M1305.6 2783.3V2797.3"/>
<path d="M1361.3 2223.1H1375.3M1368.3 2216.1V2230.1"/>
<path d="M1361.3 2790.3H1375.3M1368.3 2783.3V2797.3"/>
<path d="M1423.7 2223.1H1437.7M1430.7 2216.1V2230.1"/>
<path d="M1423.7 2790.3H1437.7M1430.7 2783.3V2797.3"/>
<path d="M1487.1 2223.1H1501.1M1494.1 2216.1V2230.1"/>
<path d="M1487.1 2790.3H1501.1M1494.1 2783.3V2797.3"/>
<path d="M1553.1 2223.1H1567.1M1560.1 2216.1V2230.1"/>
<path d="M1553.1 2790.3H1567.1M1560.1 2783.3V2797.3"/>
<path d="M1553.1 2286.5H1567.1M1560.1 2279.5V2293.5"/>
<path d="M1553.1 2349.6H1567.1M1560.1 2342.6V2356.6"/>
<path d="M1553.1 2412.4H1567.1M1560.1 2405.4V2419.4"/>
<path d="M1553.1 2474.8H1567.1M1560.1 2467.8V2481.8"/>
<path d="M1553.1 2537.9H1567.1M1560.1 2530.9V2544.9"/>
<path d="M1553.1 2601.3H1567.1M1560.1 2594.3V2608.3"/>
<path d="M798 2492Q804.5 2505.6 798 2520.4"/>
<rect x="1353" y="2364" width="182" height="284" fill="#fff"/>
<path d="M1363.1 2380.5H1377.1M1370.1 2373.5V2387.5"/>
<path d="M1513 2380.5H1527M1520 2373.5V2387.5"/>
<path d="M1363.1 2443.5H1377.1M1370.1 2436.5V2450.5"/>
<path d="M1513 2443.5H1527M1520 2436.5V2450.5"/>
<path d="M1363.1 2506.3H1377.1M1370.1 2499.3V2513.3"/>
<path d="M1513 2506.3H1527M1520 2499.3V2513.3"/>
<path d="M1363.1 2568.9H1377.1M1370.1 2561.9V2575.9"/>
<path d="M1513 2568.9H1527M1520 2561.9V2575.9"/>
<path d="M1363.1 2631.8H1377.1M1370.1 2624.8V2638.8"/>
<path d="M1513 2631.8H1527M1520 2624.8V2638.8"/>
<path d="M1438.5 2380L1452.7 2380"/>
<path d="M1438.5 2632L1452.7 2632"/>
<path d="M1446 2341.5L1446 2672.6"/>
<rect x="1441" y="2460" width="8" height="93" rx="4" fill="#fff"/>
<path d="M1340 2506L1373 2506"/>
<path d="M1383.5 2506L1399.5 2506"/>
<path d="M1415.5 2506L1600.5 2506"/>
<path d="M1388.9 2282L1474.6 2282"/>
<path d="M1410.8 2282.3L1451.6 2282.3" stroke-width="5"/>
<path d="M1431 2256.4L1431 2308.2"/>
<circle cx="1560.8" cy="2664.4" r="6.5" stroke-width="2"/>
<path d="M1550.8 2664.4H1570.8M1560.8 2654.4V2674.4"/>
<path d="M937.1 2291.1L969 2234.4M937.1 2234.4L969 2291.1" stroke-width="4" stroke-linecap="round"/>
<path d="M1191.4 2287.6L1207 2230.9L1222.3 2287.6M1196.2 2271.6H1217.8" stroke-width="4" stroke-linecap="round" stroke-linejoin="round"/>
<path d="M994.4 2321.5L1008.4 2322.8L1021.7 2325.7L1034.4 2327.9L1041.4 2329.4L1045.2 2332.2L1047 2336.2L1048.4 2344.2L1049.6 2353.2L1051.6 2367.2L1053.1 2380.2L1051.8 2394.2L1048.9 2407.5L1046.7 2420.2L1045.2 2427.2L1042.4 2431L1038.4 2432.8L1030.4 2434.2L1021.4 2435.4L1007.4 2437.4L994.4 2438.9L980.4 2437.6L967.1 2434.7L954.4 2432.5L947.4 2431L943.6 2428.2L941.8 2424.2L940.4 2416.2L939.2 2407.2L937.2 2393.2L935.7 2380.2L937 2366.2L939.9 2352.9L942.1 2340.2L943.6 2333.2L946.4 2329.4L950.4 2327.6L958.4 2326.2L967.4 2325L981.4 2323Z" stroke-width="1.5"/>
<circle cx="994.4" cy="2380.2" r="51.3"/>
<circle cx="994.4" cy="2380.2" r="22.6"/>
<path d="M1052.7 2438.5L1010.4 2396.2"/>
<path d="M1052.7 2321.9L1010.4 2364.2"/>
<path d="M936.1 2438.5L978.4 2396.2"/>
<path d="M936.1 2321.9L978.4 2364.2"/>
<path d="M943.1 2380L1045.7 2380"/>
<path d="M994 2328.9L994 2431.5"/>
<rect x="989" y="2389" width="11" height="17" fill="#fff"/>
<circle cx="994.4" cy="2380.2" r="8.3" fill="#fff" stroke-width="2.4"/>
<circle cx="994.4" cy="2380.2" r="4.6" stroke-width="1.4"/>
<circle cx="994.4" cy="2380.2" r="2.2" fill="#000" stroke-width="0.5"/>
<path d="M994 2388.7L994 2405.5"/>
<path d="M1167.1 2321.5L1181.1 2322.8L1194.4 2325.7L1207.1 2327.9L1214.1 2329.4L1217.9 2332.2L1219.7 2336.2L1221.1 2344.2L1222.3 2353.2L1224.3 2367.2L1225.8 2380.2L1224.5 2394.2L1221.6 2407.5L1219.4 2420.2L1217.9 2427.2L1215.1 2431L1211.1 2432.8L1203.1 2434.2L1194.1 2435.4L1180.1 2437.4L1167.1 2438.9L1153.1 2437.6L1139.8 2434.7L1127.1 2432.5L1120.1 2431L1116.3 2428.2L1114.5 2424.2L1113.1 2416.2L1111.9 2407.2L1109.9 2393.2L1108.4 2380.2L1109.7 2366.2L1112.6 2352.9L1114.8 2340.2L1116.3 2333.2L1119.1 2329.4L1123.1 2327.6L1131.1 2326.2L1140.1 2325L1154.1 2323Z" stroke-width="1.5"/>
<circle cx="1167.1" cy="2380.2" r="51.3"/>
<circle cx="1167.1" cy="2380.2" r="22.6"/>
<path d="M1225.4 2438.5L1183.1 2396.2"/>
<path d="M1225.4 2321.9L1183.1 2364.2"/>
<path d="M1108.8 2438.5L1151.1 2396.2"/>
<path d="M1108.8 2321.9L1151.1 2364.2"/>
<path d="M1093.6 2380L1242.9 2380"/>
<path d="M1167 2306.7L1167 2455.6"/>
<path d="M1154.8 2363.5H1178.6L1180.2 2385L1183.2 2404L1182.6 2422L1178 2438L1175.4 2449.1L1170.5 2438L1162 2422L1158.5 2404L1156.5 2385Z" fill="#fff"/>
<path d="M1167 2306.3L1167 2455.2"/>
<rect x="1162" y="2389" width="11" height="17" fill="#fff"/>
<circle cx="1167.1" cy="2380.2" r="8.3" fill="#fff" stroke-width="2.4"/>
<circle cx="1167.1" cy="2380.2" r="4.6" stroke-width="1.4"/>
<circle cx="1167.1" cy="2380.2" r="2.2" fill="#000" stroke-width="0.5"/>
<path d="M1167 2388.7L1167 2405.5"/>
<circle cx="1182.6" cy="2506.2" r="35.4" fill="#fff"/>
<circle cx="1182.6" cy="2506.2" r="32.6"/>
<circle cx="1182.6" cy="2506.2" r="28.4"/>
<path d="M1146.6 2506L1218.6 2506"/>
<rect x="1165.6" y="2492.9" width="9" height="9.6" stroke-width="1.3"/>
<path d="M1170.1 2492.9V2502.5M1165.6 2497.7H1174.6" stroke-width="1.3"/>
<path d="M1165.6 2494.2L1160.1 2497.7L1165.6 2501.2" stroke-width="1.3"/>
<rect x="1186.1" y="2491.7" width="7" height="12" stroke-width="1.3"/>
<path d="M1193.1 2497.7L1209.6 2497.7" stroke-width="1.3"/>
<rect x="1165.6" y="2510.2" width="9" height="9.6" stroke-width="1.3"/>
<path d="M1170.1 2510.2V2519.8M1165.6 2515H1174.6" stroke-width="1.3"/>
<path d="M1165.6 2511.5L1160.1 2515L1165.6 2518.5" stroke-width="1.3"/>
<rect x="1186.1" y="2509" width="7" height="12" stroke-width="1.3"/>
<path d="M1193.1 2515L1209.6 2515" stroke-width="1.3"/>
<rect x="1176.1" y="2485.2" width="5" height="44.5" fill="#000" stroke-width="0.5"/>
<rect x="1181.1" y="2482.2" width="4.5" height="48.5" fill="#fff" stroke-width="1.3"/>
<path d="M1183 2444.5L1183 2568.6"/>
<path d="M1175.4 2449.1L1177.3 2470L1180.6 2500" stroke-width="1.6"/>
<path d="M1186.5 2541L1194.5 2608"/>
<path d="M1190.5 2590L1192.5 2608"/>
<circle cx="1195" cy="2616.6" r="7.6" stroke-width="3"/>
<circle cx="1195" cy="2616.6" r="3" fill="#000" stroke-width="0.5"/>
<path d="M1163.1 2617L1226.5 2617"/>
<path d="M1195 2624L1195 2648"/>
<path d="M820 2543L849.7 2531.1H863.9L893.5 2543Q896.5 2544.2 896.5 2547V2561.7Q896.5 2564.5 893.5 2565.7L863.9 2577H849.7L820 2565.7Q817.1 2564.5 817.1 2561.7V2547Q817.1 2544.2 820 2543Z"/>
<circle cx="856.3" cy="2553.9" r="8"/>
<path d="M822.2 2554L892.2 2554"/>
<path d="M856 2531.1L856 2577"/>
<path d="M828 2548L828 2560"/>
<path d="M887 2548L887 2560"/>
<rect x="828" y="2622" width="6" height="152"/>
<path d="M831 2626L831 2772" stroke-width="1.2" stroke-dasharray="14 3"/>
<rect x="824.2" y="2621.6" width="81.6" height="3.9" fill="#000" stroke-width="0.5"/>
<path d="M830 2623.6H902" stroke-width="1.1" stroke="#fff" stroke-dasharray="16 4"/>
<rect x="824.2" y="2773.8" width="474.2" height="3.9" fill="#000" stroke-width="0.5"/>
<path d="M828 2775.8H1296" stroke-width="1.1" stroke="#fff" stroke-dasharray="16 4"/>
<rect x="1288" y="2622" width="6" height="152"/>
<path d="M1291 2626L1291 2772" stroke-width="1.2" stroke-dasharray="22 3"/>
<rect x="1251.6" y="2621.6" width="46.8" height="3.9" fill="#000" stroke-width="0.5"/>
<path d="M1256 2623.6H1296" stroke-width="1.1" stroke="#fff" stroke-dasharray="16 4"/>
<rect x="835" y="2638" width="17" height="19"/>
<path d="M817.3 2647L844 2647"/>
<rect x="835" y="2741" width="17" height="19"/>
<path d="M817.3 2751L844 2751"/>
<rect x="1270" y="2654" width="17" height="20"/>
<path d="M1279 2664L1305.6 2664"/>
<rect x="798" y="2728" width="23" height="4"/>
<path d="M880.3 2664.5L940.9 2705.3M958 2664.5L936.5 2688Q931.5 2697 940.9 2705.3M1037 2664.5L941 2688.5Q934 2691 934.3 2694M918.5 2706.1H942" stroke-width="1.6"/>
<path d="M1084.4 2664.5L1141 2705.3M1147.6 2664.5L1136.5 2687Q1132 2697 1141 2705.3M1194.2 2664.5L1139 2686.5Q1134.5 2689 1134.4 2693M1242.3 2664.5L1142 2686M1120 2704.8H1143" stroke-width="1.6"/>
<path d="M957.5 2699.5L1212 2723.2L1212 2743.5L957.5 2719Z" fill="#fff"/>
<path d="M957.5 2709.3L1083 2719.8M1098.9 2722.4H1116M1134.4 2725.9L1210.7 2734.3" stroke-width="1.6"/>
<rect x="942.2" y="2703.5" width="15.3" height="8.4" fill="#fff" stroke-width="1.5"/>
<path d="M1158.1 2698.7L1210.9 2702.2L1210.9 2723.2L1158.1 2717.2Z" fill="#fff"/>
<path d="M1158.1 2708L1210.9 2713.2"/>
<rect x="1143.1" y="2703.5" width="15" height="8.4" fill="#fff" stroke-width="1.5"/>
<rect x="998" y="2685" width="16" height="57" fill="#fff"/>
<path d="M1000.6 2694H1011.6M1006.1 2688.5V2699.5"/>
<path d="M1000.6 2732H1011.6M1006.1 2726.5V2737.5"/>
<path d="M998.1 2703L1014.1 2703"/>
<path d="M998.1 2724L1014.1 2724"/>
<path d="M1000 2713.2L1012 2713.2" stroke-width="2.4"/>
<circle cx="880.1" cy="2663.7" r="16.2" fill="#fff"/>
<circle cx="880.1" cy="2663.7" r="12.2"/>
<circle cx="880.1" cy="2663.7" r="9.3"/>
<circle cx="880.1" cy="2663.7" r="5.7" fill="#000" stroke-width="0.5"/>
<rect x="875" y="2670" width="10" height="10" fill="#fff"/>
<path d="M875.1 2669.7L880.1 2673.7L885.1 2669.7"/>
<circle cx="959.1" cy="2663.7" r="16.2" fill="#fff"/>
<circle cx="959.1" cy="2663.7" r="12.2"/>
<circle cx="959.1" cy="2663.7" r="9.3"/>
<circle cx="959.1" cy="2663.7" r="5.7" fill="#000" stroke-width="0.5"/>
<rect x="954" y="2670" width="10" height="10" fill="#fff"/>
<path d="M954.1 2669.7L959.1 2673.7L964.1 2669.7"/>
<circle cx="1037.1" cy="2663.7" r="16.2" fill="#fff"/>
<circle cx="1037.1" cy="2663.7" r="12.2"/>
<circle cx="1037.1" cy="2663.7" r="9.3"/>
<circle cx="1037.1" cy="2663.7" r="5.7" fill="#000" stroke-width="0.5"/>
<rect x="1032" y="2670" width="10" height="10" fill="#fff"/>
<path d="M1032.1 2669.7L1037.1 2673.7L1042.1 2669.7"/>
<circle cx="1084.9" cy="2663.7" r="16.2" fill="#fff"/>
<circle cx="1084.9" cy="2663.7" r="12.2"/>
<circle cx="1084.9" cy="2663.7" r="9.3"/>
<circle cx="1084.9" cy="2663.7" r="5.7" fill="#000" stroke-width="0.5"/>
<rect x="1080" y="2670" width="10" height="10" fill="#fff"/>
<path d="M1079.9 2669.7L1084.9 2673.7L1089.9 2669.7"/>
<circle cx="1147.7" cy="2663.7" r="16.2" fill="#fff"/>
<circle cx="1147.7" cy="2663.7" r="12.2"/>
<circle cx="1147.7" cy="2663.7" r="9.3"/>
<circle cx="1147.7" cy="2663.7" r="5.7" fill="#000" stroke-width="0.5"/>
<rect x="1143" y="2670" width="10" height="10" fill="#fff"/>
<path d="M1142.7 2669.7L1147.7 2673.7L1152.7 2669.7"/>
<circle cx="1195" cy="2663.7" r="16.2" fill="#fff"/>
<circle cx="1195" cy="2663.7" r="12.2"/>
<circle cx="1195" cy="2663.7" r="9.3"/>
<circle cx="1195" cy="2663.7" r="5.7" fill="#000" stroke-width="0.5"/>
<rect x="1190" y="2670" width="10" height="10" fill="#fff"/>
<path d="M1190 2669.7L1195 2673.7L1200 2669.7"/>
<circle cx="1242.5" cy="2663.7" r="16.2" fill="#fff"/>
<circle cx="1242.5" cy="2663.7" r="12.2"/>
<circle cx="1242.5" cy="2663.7" r="9.3"/>
<circle cx="1242.5" cy="2663.7" r="5.7" fill="#000" stroke-width="0.5"/>
<rect x="1238" y="2670" width="10" height="10" fill="#fff"/>
<path d="M1237.5 2669.7L1242.5 2673.7L1247.5 2669.7"/>
<path d="M1226.5 2702.7H1596.2Q1601 2702.7 1601 2697V2691M1226.5 2713H1598Q1608 2713 1608 2703V2697M1226.5 2722.9H1600Q1612 2722.9 1612.5 2710M1226.5 2732.8H1598Q1612 2732.8 1615.7 2720V2691M1226.5 2742.8H1598Q1620.5 2742.8 1620.5 2722V2708"/>
<path d="M1330.4 2713H1348.1M1367.6 2713H1383.5M1330.4 2732.8H1348.1M1367.6 2732.8H1383.5" stroke-width="3.4" stroke="#fff"/>
<rect x="1211" y="2685" width="16" height="76" rx="1.5" fill="#fff"/>
<path d="M1213.5 2693.5H1224.5M1219 2688V2699"/>
<path d="M1213.5 2752H1224.5M1219 2746.5V2757.5"/>
<path d="M1210.9 2703L1227.1 2703"/>
<path d="M1210.9 2723L1227.1 2723"/>
<path d="M1210.9 2743L1227.1 2743"/>
<rect x="1493" y="2685" width="17" height="76" rx="1.5" fill="#fff"/>
<path d="M1496 2693.5H1507M1501.5 2688V2699"/>
<path d="M1496 2752H1507M1501.5 2746.5V2757.5"/>
<path d="M1493.4 2703L1509.6 2703"/>
<path d="M1493.4 2723L1509.6 2723"/>
<path d="M1493.4 2743L1509.6 2743"/>
<rect x="1581" y="2524" width="58" height="135" fill="#fff"/>
<rect x="1638.7" y="2524.4" width="3.6" height="134.7" fill="#000" stroke-width="0.5"/>
<path d="M1618.2 2531L1666.4 2531"/>
<path d="M1640 2527.3L1645 2530.8L1640 2534.3Z" fill="#000" stroke-width="0.5"/>
<path d="M1618.2 2592L1666.4 2592"/>
<path d="M1640 2588.3L1645 2591.8L1640 2595.3Z" fill="#000" stroke-width="0.5"/>
<path d="M1618.2 2653L1666.4 2653"/>
<path d="M1640 2649.6L1645 2653.1L1640 2656.6Z" fill="#000" stroke-width="0.5"/>
<rect x="1589" y="2659" width="34" height="5" fill="#fff"/>
<path d="M1587.3 2664H1624.6V2683L1620 2691H1592L1587.3 2683Z" fill="#fff"/>
<path d="M1594 2659.1V2683M1600 2664V2683M1612 2664V2683M1618 2659.1V2683M1587.3 2683H1624.6" stroke-width="1.3"/>
<path d="M1597 2665L1597 2682" stroke-width="2.6"/>
<path d="M1615 2665L1615 2682" stroke-width="2.6"/>
<rect x="552" y="2113" width="246" height="780" fill="#fff"/>
<path d="M675 2089.1L675 2939.1" stroke-dasharray="127.6 16 21.2 16"/>
<circle cx="671.5" cy="2601.7" r="6.2" stroke-width="2"/>
<path d="M661 2601.7H682M671.5 2591.2V2612.2"/>
<circle cx="674.9" cy="2829.2" r="41.8"/>
<path d="M610.7 2829L741.9 2829"/>
<rect x="526" y="2893" width="300" height="5" fill="#fff"/>
<rect x="524" y="2898" width="301.5" height="4" fill="#000" stroke-width="0.5"/>
<path d="M658 2882.4L658 2931.3"/>
<rect x="652.4" y="2902" width="11" height="4" fill="#000" stroke-width="0.5"/>
<rect x="654.4" y="2906" width="7" height="6.5" fill="#000" stroke-width="0.5"/>
<rect x="669.4" y="2902" width="11" height="4" fill="#000" stroke-width="0.5"/>
<rect x="671.4" y="2906" width="7" height="6.5" fill="#000" stroke-width="0.5"/>
<path d="M693 2882.4L693 2931.3"/>
<rect x="687.1" y="2902" width="11" height="4" fill="#000" stroke-width="0.5"/>
<rect x="689.1" y="2906" width="7" height="6.5" fill="#000" stroke-width="0.5"/>
<path d="M1116 2183.1L1116 2304.8"/>
<path d="M1116 2323L1116 2480.1"/>
<path d="M1116 2497.7L1116 2514.5"/>
<path d="M1116 2533.1L1116 2689.9"/>
<path d="M1116 2708.5L1116 2828"/>
<path d="M467.8 2506L926.2 2506" stroke-dasharray="184.5 17.3 19 16.4"/>
<path d="M941.8 2506L1340 2506"/>
</g>
</svg>
</body></html>
